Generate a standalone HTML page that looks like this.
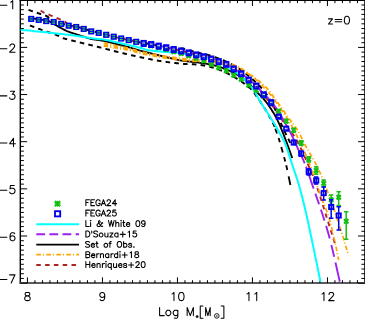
<!DOCTYPE html>
<html><head><meta charset="utf-8"><title>SMF z=0</title>
<style>html,body{margin:0;padding:0;background:#fff;font-family:"Liberation Sans",sans-serif;}svg{display:block}</style>
</head><body>
<svg width="365" height="319" viewBox="0 0 365 319">
<rect x="0" y="0" width="365" height="319" fill="#fff"/>
<path d="M20.30 -0.45 V283.85" stroke="#000" stroke-width="1.4"/>
<path d="M364.95 -0.45 V283.85" stroke="#000" stroke-width="1.5"/>
<path d="M19.60 0.25 H365.65" stroke="#000" stroke-width="1.5"/>
<path d="M19.60 283.00 H365.65" stroke="#5c5c5c" stroke-width="2.0"/>
<path d="M27.45 283.10 V277.35 M27.45 0.25 V6.00 M34.95 283.10 V280.20 M34.95 0.25 V3.15 M42.45 283.10 V280.20 M42.45 0.25 V3.15 M49.95 283.10 V280.20 M49.95 0.25 V3.15 M57.45 283.10 V280.20 M57.45 0.25 V3.15 M64.95 283.10 V280.20 M64.95 0.25 V3.15 M72.45 283.10 V280.20 M72.45 0.25 V3.15 M79.95 283.10 V280.20 M79.95 0.25 V3.15 M87.45 283.10 V280.20 M87.45 0.25 V3.15 M94.95 283.10 V280.20 M94.95 0.25 V3.15 M102.45 283.10 V277.35 M102.45 0.25 V6.00 M109.95 283.10 V280.20 M109.95 0.25 V3.15 M117.45 283.10 V280.20 M117.45 0.25 V3.15 M124.95 283.10 V280.20 M124.95 0.25 V3.15 M132.45 283.10 V280.20 M132.45 0.25 V3.15 M139.95 283.10 V280.20 M139.95 0.25 V3.15 M147.45 283.10 V280.20 M147.45 0.25 V3.15 M154.95 283.10 V280.20 M154.95 0.25 V3.15 M162.45 283.10 V280.20 M162.45 0.25 V3.15 M169.95 283.10 V280.20 M169.95 0.25 V3.15 M177.45 283.10 V277.35 M177.45 0.25 V6.00 M184.95 283.10 V280.20 M184.95 0.25 V3.15 M192.45 283.10 V280.20 M192.45 0.25 V3.15 M199.95 283.10 V280.20 M199.95 0.25 V3.15 M207.45 283.10 V280.20 M207.45 0.25 V3.15 M214.95 283.10 V280.20 M214.95 0.25 V3.15 M222.45 283.10 V280.20 M222.45 0.25 V3.15 M229.95 283.10 V280.20 M229.95 0.25 V3.15 M237.45 283.10 V280.20 M237.45 0.25 V3.15 M244.95 283.10 V280.20 M244.95 0.25 V3.15 M252.45 283.10 V277.35 M252.45 0.25 V6.00 M259.95 283.10 V280.20 M259.95 0.25 V3.15 M267.45 283.10 V280.20 M267.45 0.25 V3.15 M274.95 283.10 V280.20 M274.95 0.25 V3.15 M282.45 283.10 V280.20 M282.45 0.25 V3.15 M289.95 283.10 V280.20 M289.95 0.25 V3.15 M297.45 283.10 V280.20 M297.45 0.25 V3.15 M304.95 283.10 V280.20 M304.95 0.25 V3.15 M312.45 283.10 V280.20 M312.45 0.25 V3.15 M319.95 283.10 V280.20 M319.95 0.25 V3.15 M327.45 283.10 V277.35 M327.45 0.25 V6.00 M334.95 283.10 V280.20 M334.95 0.25 V3.15 M342.45 283.10 V280.20 M342.45 0.25 V3.15 M349.95 283.10 V280.20 M349.95 0.25 V3.15 M357.45 283.10 V280.20 M357.45 0.25 V3.15 M20.30 0.25 H27.15 M364.95 0.25 H358.10 M20.30 4.97 H23.85 M364.95 4.97 H361.40 M20.30 9.68 H23.85 M364.95 9.68 H361.40 M20.30 14.40 H23.85 M364.95 14.40 H361.40 M20.30 19.11 H23.85 M364.95 19.11 H361.40 M20.30 23.82 H23.85 M364.95 23.82 H361.40 M20.30 28.54 H23.85 M364.95 28.54 H361.40 M20.30 33.26 H23.85 M364.95 33.26 H361.40 M20.30 37.97 H23.85 M364.95 37.97 H361.40 M20.30 42.68 H23.85 M364.95 42.68 H361.40 M20.30 47.40 H27.15 M364.95 47.40 H358.10 M20.30 52.12 H23.85 M364.95 52.12 H361.40 M20.30 56.83 H23.85 M364.95 56.83 H361.40 M20.30 61.54 H23.85 M364.95 61.54 H361.40 M20.30 66.26 H23.85 M364.95 66.26 H361.40 M20.30 70.97 H23.85 M364.95 70.97 H361.40 M20.30 75.69 H23.85 M364.95 75.69 H361.40 M20.30 80.41 H23.85 M364.95 80.41 H361.40 M20.30 85.12 H23.85 M364.95 85.12 H361.40 M20.30 89.84 H23.85 M364.95 89.84 H361.40 M20.30 94.55 H27.15 M364.95 94.55 H358.10 M20.30 99.27 H23.85 M364.95 99.27 H361.40 M20.30 103.98 H23.85 M364.95 103.98 H361.40 M20.30 108.70 H23.85 M364.95 108.70 H361.40 M20.30 113.41 H23.85 M364.95 113.41 H361.40 M20.30 118.12 H23.85 M364.95 118.12 H361.40 M20.30 122.84 H23.85 M364.95 122.84 H361.40 M20.30 127.56 H23.85 M364.95 127.56 H361.40 M20.30 132.27 H23.85 M364.95 132.27 H361.40 M20.30 136.99 H23.85 M364.95 136.99 H361.40 M20.30 141.70 H27.15 M364.95 141.70 H358.10 M20.30 146.41 H23.85 M364.95 146.41 H361.40 M20.30 151.13 H23.85 M364.95 151.13 H361.40 M20.30 155.85 H23.85 M364.95 155.85 H361.40 M20.30 160.56 H23.85 M364.95 160.56 H361.40 M20.30 165.28 H23.85 M364.95 165.28 H361.40 M20.30 169.99 H23.85 M364.95 169.99 H361.40 M20.30 174.71 H23.85 M364.95 174.71 H361.40 M20.30 179.42 H23.85 M364.95 179.42 H361.40 M20.30 184.14 H23.85 M364.95 184.14 H361.40 M20.30 188.85 H27.15 M364.95 188.85 H358.10 M20.30 193.57 H23.85 M364.95 193.57 H361.40 M20.30 198.28 H23.85 M364.95 198.28 H361.40 M20.30 202.99 H23.85 M364.95 202.99 H361.40 M20.30 207.71 H23.85 M364.95 207.71 H361.40 M20.30 212.42 H23.85 M364.95 212.42 H361.40 M20.30 217.14 H23.85 M364.95 217.14 H361.40 M20.30 221.85 H23.85 M364.95 221.85 H361.40 M20.30 226.57 H23.85 M364.95 226.57 H361.40 M20.30 231.28 H23.85 M364.95 231.28 H361.40 M20.30 236.00 H27.15 M364.95 236.00 H358.10 M20.30 240.72 H23.85 M364.95 240.72 H361.40 M20.30 245.43 H23.85 M364.95 245.43 H361.40 M20.30 250.15 H23.85 M364.95 250.15 H361.40 M20.30 254.86 H23.85 M364.95 254.86 H361.40 M20.30 259.57 H23.85 M364.95 259.57 H361.40 M20.30 264.29 H23.85 M364.95 264.29 H361.40 M20.30 269.00 H23.85 M364.95 269.00 H361.40 M20.30 273.72 H23.85 M364.95 273.72 H361.40 M20.30 278.44 H23.85 M364.95 278.44 H361.40 M20.30 283.15 H27.15 M364.95 283.15 H358.10" stroke="#000" stroke-width="1.0" fill="none"/>
<clipPath id="c"><rect x="20.30" y="0.25" width="344.65" height="282.85"/></clipPath>
<g clip-path="url(#c)">
<path d="M143.70 42.90 L143.87 42.92 L144.06 42.95 L144.28 42.98 L144.52 43.01 L144.77 43.05 L145.05 43.09 L145.34 43.13 L145.64 43.17 L145.96 43.21 L146.29 43.26 L146.63 43.30 L146.98 43.35 L147.34 43.40 L147.70 43.45 L148.06 43.50 L148.42 43.56 L148.79 43.61 L149.15 43.66 L149.51 43.72 L149.86 43.77 L150.21 43.83 L150.55 43.89 L150.88 43.94 L151.20 44.00 L151.51 44.06 L151.83 44.12 L152.14 44.18 L152.45 44.24 L152.76 44.30 L153.08 44.36 L153.39 44.43 L153.70 44.50 L154.01 44.56 L154.32 44.63 L154.64 44.70 L154.95 44.77 L155.26 44.84 L155.57 44.91 L155.89 44.98 L156.20 45.05 L156.51 45.12 L156.82 45.19 L157.14 45.26 L157.45 45.33 L157.76 45.40 L158.07 45.47 L158.39 45.53 L158.70 45.60 L159.01 45.67 L159.32 45.73 L159.64 45.80 L159.95 45.86 L160.26 45.93 L160.57 46.00 L160.89 46.06 L161.20 46.13 L161.51 46.19 L161.83 46.26 L162.14 46.32 L162.45 46.39 L162.76 46.45 L163.08 46.52 L163.39 46.59 L163.70 46.65 L164.01 46.72 L164.33 46.79 L164.64 46.85 L164.95 46.92 L165.26 46.99 L165.58 47.06 L165.89 47.13 L166.20 47.20 L166.51 47.27 L166.83 47.34 L167.14 47.42 L167.45 47.49 L167.76 47.57 L168.08 47.64 L168.39 47.72 L168.70 47.80 L169.01 47.88 L169.33 47.95 L169.64 48.03 L169.95 48.11 L170.26 48.19 L170.58 48.26 L170.89 48.34 L171.20 48.42 L171.51 48.49 L171.83 48.57 L172.14 48.64 L172.45 48.72 L172.76 48.79 L173.08 48.86 L173.39 48.93 L173.70 49.00 L174.01 49.07 L174.33 49.13 L174.64 49.19 L174.95 49.26 L175.26 49.32 L175.58 49.38 L175.89 49.43 L176.20 49.49 L176.51 49.55 L176.83 49.60 L177.14 49.66 L177.45 49.72 L177.76 49.77 L178.08 49.83 L178.39 49.89 L178.70 49.94 L179.01 50.00 L179.33 50.06 L179.64 50.12 L179.95 50.18 L180.26 50.25 L180.58 50.31 L180.89 50.38 L181.20 50.45 L181.51 50.52 L181.83 50.59 L182.14 50.67 L182.45 50.75 L182.76 50.82 L183.08 50.90 L183.39 50.98 L183.70 51.06 L184.01 51.14 L184.33 51.22 L184.64 51.31 L184.95 51.39 L185.26 51.47 L185.58 51.56 L185.89 51.64 L186.20 51.73 L186.51 51.81 L186.82 51.90 L187.14 51.98 L187.45 52.07 L187.76 52.15 L188.08 52.23 L188.39 52.32 L188.70 52.40 L189.01 52.48 L189.33 52.57 L189.64 52.65 L189.95 52.73 L190.26 52.82 L190.58 52.90 L190.89 52.99 L191.20 53.07 L191.51 53.16 L191.82 53.24 L192.14 53.32 L192.45 53.41 L192.76 53.49 L193.07 53.58 L193.39 53.66 L193.70 53.75 L194.01 53.83 L194.32 53.91 L194.64 54.00 L194.95 54.08 L195.26 54.16 L195.57 54.24 L195.89 54.32 L196.20 54.40 L196.51 54.48 L196.82 54.56 L197.14 54.63 L197.45 54.71 L197.76 54.78 L198.07 54.85 L198.39 54.92 L198.70 55.00 L199.01 55.07 L199.33 55.14 L199.64 55.21 L199.95 55.28 L200.26 55.35 L200.58 55.42 L200.89 55.50 L201.20 55.57 L201.51 55.64 L201.83 55.72 L202.14 55.80 L202.45 55.87 L202.76 55.95 L203.08 56.03 L203.39 56.12 L203.70 56.20 L204.01 56.29 L204.33 56.37 L204.64 56.46 L204.95 56.55 L205.26 56.64 L205.58 56.73 L205.89 56.83 L206.20 56.92 L206.51 57.01 L206.83 57.11 L207.14 57.21 L207.45 57.30 L207.76 57.40 L208.08 57.50 L208.39 57.60 L208.70 57.70 L209.01 57.80 L209.33 57.90 L209.64 58.00 L209.95 58.10 L210.26 58.20 L210.58 58.30 L210.89 58.40 L211.20 58.50 L211.51 58.60 L211.83 58.70 L212.14 58.80 L212.45 58.91 L212.76 59.01 L213.08 59.11 L213.39 59.22 L213.70 59.32 L214.01 59.42 L214.33 59.53 L214.64 59.63 L214.95 59.74 L215.26 59.85 L215.58 59.95 L215.89 60.06 L216.20 60.17 L216.51 60.28 L216.83 60.39 L217.14 60.49 L217.45 60.60 L217.76 60.72 L218.08 60.83 L218.39 60.94 L218.70 61.05 L219.01 61.16 L219.33 61.27 L219.64 61.38 L219.95 61.49 L220.26 61.60 L220.58 61.70 L220.89 61.81 L221.20 61.92 L221.51 62.02 L221.83 62.13 L222.14 62.24 L222.45 62.35 L222.76 62.47 L223.08 62.58 L223.39 62.70 L223.70 62.82 L224.01 62.94 L224.32 63.06 L224.64 63.19 L224.95 63.33 L225.26 63.46 L225.58 63.60 L225.89 63.75 L226.20 63.90 L226.51 64.06 L226.83 64.22 L227.14 64.38 L227.45 64.55 L227.76 64.72 L228.08 64.90 L228.39 65.08 L228.70 65.26 L229.01 65.45 L229.33 65.64 L229.64 65.83 L229.95 66.03 L230.26 66.22 L230.58 66.42 L230.89 66.61 L231.20 66.81 L231.51 67.01 L231.82 67.21 L232.14 67.41 L232.45 67.61 L232.76 67.81 L233.08 68.01 L233.39 68.20 L233.70 68.40 L234.01 68.59 L234.32 68.79 L234.64 68.98 L234.95 69.17 L235.26 69.36 L235.57 69.55 L235.89 69.75 L236.20 69.94 L236.51 70.13 L236.83 70.32 L237.14 70.52 L237.45 70.71 L237.76 70.91 L238.08 71.11 L238.39 71.31 L238.70 71.51 L239.01 71.72 L239.33 71.93 L239.64 72.14 L239.95 72.35 L240.26 72.57 L240.58 72.79 L240.89 73.02 L241.20 73.25 L241.51 73.49 L241.83 73.73 L242.14 73.97 L242.45 74.22 L242.76 74.47 L243.08 74.73 L243.39 74.99 L243.70 75.26 L244.01 75.52 L244.33 75.79 L244.64 76.06 L244.95 76.33 L245.26 76.60 L245.58 76.88 L245.89 77.15 L246.20 77.42 L246.51 77.69 L246.83 77.97 L247.14 78.24 L247.45 78.50 L247.76 78.77 L248.08 79.03 L248.39 79.29 L248.70 79.55 L249.01 79.80 L249.33 80.06 L249.65 80.31 L249.97 80.56 L250.29 80.80 L250.61 81.05 L250.94 81.29 L251.26 81.54 L251.59 81.78 L251.91 82.03 L252.23 82.27 L252.56 82.51 L252.88 82.76 L253.20 83.00 L253.51 83.24 L253.83 83.49 L254.14 83.73 L254.44 83.98 L254.75 84.23 L255.05 84.48 L255.34 84.73 L255.63 84.99 L255.92 85.24 L256.20 85.50 L256.48 85.76 L256.75 86.03 L257.01 86.30 L257.28 86.57 L257.54 86.85 L257.79 87.13" fill="none" stroke="#a020f0" stroke-width="1.9" stroke-linejoin="round" stroke-linecap="butt"/>
<path d="M31.00 18.20 L31.60 18.28 L32.41 18.39 L33.36 18.52 L34.43 18.67 L35.55 18.82 L36.68 18.99 L37.78 19.15 L38.80 19.30 L39.79 19.45 L40.80 19.61 L41.83 19.78 L42.85 19.94 L43.84 20.11 L44.77 20.28 L45.63 20.44 L46.40 20.60 L47.03 20.73 L47.51 20.82 L47.91 20.89 L48.26 20.98 L48.61 21.08 L49.02 21.24 L49.54 21.47 L50.20 21.80 L51.04 22.25 L52.02 22.81 L53.11 23.45 L54.24 24.14 L55.39 24.85 L56.52 25.53 L57.57 26.16 L58.50 26.70 L59.33 27.17 L60.12 27.59 L60.85 27.98 L61.54 28.34 L62.20 28.68 L62.82 29.00 L63.42 29.30 L64.00 29.60 L64.51 29.87 L64.94 30.11 L65.32 30.32 L65.67 30.53 L66.05 30.72 L66.47 30.93 L66.98 31.15 L67.60 31.40 L68.35 31.68 L69.20 31.98 L70.12 32.29 L71.10 32.61 L72.11 32.93 L73.13 33.26 L74.13 33.58 L75.10 33.90 L76.04 34.21 L76.96 34.52 L77.89 34.83 L78.82 35.14 L79.76 35.46 L80.71 35.77 L81.69 36.08 L82.70 36.40 L83.75 36.73 L84.84 37.08 L85.96 37.43 L87.10 37.78 L88.24 38.12 L89.36 38.45 L90.45 38.74 L91.50 39.00 L92.51 39.22 L93.50 39.40 L94.47 39.55 L95.42 39.69 L96.35 39.81 L97.28 39.93 L98.19 40.06 L99.10 40.20 L99.95 40.33 L100.71 40.45 L101.43 40.55 L102.15 40.66 L102.92 40.78 L103.79 40.94 L104.80 41.14 L106.00 41.40 L107.44 41.73 L109.09 42.13 L110.91 42.58 L112.81 43.06 L114.73 43.55 L116.61 44.03 L118.39 44.49 L120.00 44.90 L121.44 45.27 L122.78 45.62 L124.04 45.96 L125.25 46.28 L126.43 46.60 L127.59 46.92 L128.78 47.25 L130.00 47.60 L131.18 47.95 L132.27 48.28 L133.31 48.62 L134.38 48.96 L135.52 49.32 L136.80 49.70 L138.27 50.13 L140.00 50.60 L142.02 51.13 L144.30 51.72 L146.77 52.34 L149.38 52.99 L152.06 53.66 L154.77 54.32 L157.43 54.98 L160.00 55.60 L162.57 56.23 L165.23 56.88 L167.94 57.53 L170.62 58.18 L173.23 58.80 L175.70 59.37 L177.98 59.88 L180.00 60.30 L181.73 60.63 L183.20 60.87 L184.48 61.04 L185.62 61.17 L186.69 61.27 L187.73 61.36 L188.82 61.47 L190.00 61.60 L191.22 61.74 L192.38 61.87 L193.53 61.99 L194.69 62.11 L195.88 62.24 L197.15 62.39 L198.51 62.57 L200.00 62.80 L201.64 63.06 L203.40 63.33 L205.26 63.62 L207.19 63.94 L209.16 64.29 L211.13 64.68 L213.09 65.11 L215.00 65.60 L216.88 66.13 L218.75 66.69 L220.62 67.29 L222.50 67.92 L224.38 68.61 L226.25 69.35 L228.12 70.14 L230.00 71.00 L231.90 71.92 L233.83 72.89 L235.78 73.92 L237.72 75.00 L239.64 76.13 L241.50 77.31 L243.30 78.53 L245.00 79.80 L246.62 81.15 L248.17 82.61 L249.67 84.14 L251.11 85.70 L252.50 87.26 L253.84 88.79 L255.14 90.25 L256.40 91.60 L257.61 92.84 L258.77 93.99 L259.87 95.08 L260.94 96.14 L261.96 97.17 L262.96 98.21 L263.94 99.28 L264.90 100.40 L265.84 101.57 L266.76 102.76 L267.65 103.98 L268.51 105.20 L269.35 106.42 L270.16 107.64 L270.94 108.83 L271.70 110.00 L272.42 111.13 L273.11 112.23 L273.77 113.31 L274.40 114.39 L275.01 115.46 L275.61 116.55 L276.21 117.66 L276.80 118.80 L277.37 119.94 L277.91 121.05 L278.43 122.16 L278.94 123.29 L279.46 124.47 L280.00 125.73 L280.58 127.10 L281.20 128.60 L281.88 130.27 L282.61 132.09 L283.38 134.03 L284.16 136.04 L284.95 138.08 L285.73 140.12 L286.49 142.10 L287.20 144.00 L287.91 145.91 L288.64 147.93 L289.37 149.97 L290.07 151.96 L290.74 153.84 L291.32 155.52 L291.82 156.93 L292.20 158.00" fill="none" stroke="#000" stroke-width="1.85" stroke-linejoin="round" stroke-linecap="butt"/>
<path d="M28.50 9.90 L29.19 10.14 L30.11 10.45 L31.21 10.83 L32.43 11.25 L33.71 11.69 L35.03 12.15 L36.30 12.59 L37.50 13.00 L38.66 13.38 L39.84 13.74 L41.03 14.09 L42.22 14.45 L43.40 14.83 L44.55 15.24 L45.65 15.69 L46.70 16.20 L47.68 16.80 L48.59 17.50 L49.46 18.25 L50.31 19.03 L51.14 19.80 L51.97 20.53 L52.82 21.17 L53.70 21.70 L54.61 22.11 L55.54 22.42 L56.48 22.66 L57.42 22.85 L58.37 23.02 L59.31 23.17 L60.26 23.34 L61.20 23.55 L62.14 23.79 L63.08 24.03 L64.01 24.27 L64.95 24.51 L65.89 24.75 L66.83 24.98 L67.76 25.20 L68.70 25.40 L69.64 25.58 L70.58 25.75 L71.51 25.90 L72.45 26.05 L73.39 26.19 L74.33 26.35 L75.26 26.51 L76.20 26.70 L77.14 26.90 L78.08 27.12 L79.01 27.34 L79.95 27.57 L80.89 27.82 L81.83 28.07 L82.76 28.33 L83.70 28.60 L84.64 28.89 L85.58 29.21 L86.51 29.54 L87.45 29.87 L88.39 30.21 L89.33 30.53 L90.26 30.83 L91.20 31.10 L92.14 31.33 L93.08 31.54 L94.01 31.72 L94.95 31.89 L95.89 32.05 L96.83 32.22 L97.76 32.40 L98.70 32.60 L99.64 32.82 L100.58 33.05 L101.51 33.28 L102.45 33.52 L103.39 33.77 L104.33 34.02 L105.26 34.26 L106.20 34.50 L107.14 34.74 L108.08 34.98 L109.01 35.22 L109.95 35.46 L110.89 35.69 L111.83 35.93 L112.76 36.17 L113.70 36.40 L114.64 36.63 L115.58 36.86 L116.51 37.09 L117.45 37.32 L118.39 37.54 L119.33 37.77 L120.26 37.99 L121.20 38.20 L122.14 38.41 L123.08 38.61 L124.01 38.81 L124.95 39.01 L125.89 39.20 L126.83 39.40 L127.76 39.60 L128.70 39.80 L129.64 40.01 L130.58 40.22 L131.51 40.43 L132.45 40.65 L133.39 40.87 L134.33 41.08 L135.26 41.29 L136.20 41.50 L137.14 41.71 L138.08 41.92 L139.01 42.13 L139.95 42.34 L140.89 42.54 L141.83 42.74 L142.76 42.92 L143.70 43.10 L144.64 43.26 L145.58 43.40 L146.51 43.53 L147.45 43.65 L148.39 43.77 L149.33 43.90 L150.26 44.04 L151.20 44.20 L152.14 44.38 L153.08 44.56 L154.01 44.76 L154.95 44.97 L155.89 45.18 L156.82 45.39 L157.76 45.60 L158.70 45.80 L159.64 46.00 L160.57 46.20 L161.51 46.39 L162.45 46.59 L163.39 46.79 L164.33 46.99 L165.26 47.19 L166.20 47.40 L167.14 47.63 L168.08 47.90 L169.01 48.18 L169.95 48.45 L170.89 48.71 L171.83 48.93 L172.76 49.10 L173.70 49.20 L174.64 49.20 L175.58 49.11 L176.51 48.95 L177.45 48.77 L178.39 48.58 L179.33 48.43 L180.26 48.34 L181.20 48.35 L182.14 48.46 L183.08 48.64 L184.01 48.87 L184.95 49.15 L185.89 49.44 L186.82 49.74 L187.76 50.03 L188.70 50.30 L189.64 50.55 L190.58 50.80 L191.51 51.06 L192.45 51.31 L193.39 51.56 L194.32 51.81 L195.26 52.06 L196.20 52.30 L197.15 52.54 L198.13 52.78 L199.11 53.02 L200.09 53.26 L201.05 53.49 L201.98 53.70 L202.87 53.91 L203.70 54.10 L204.41 54.24 L204.98 54.33 L205.47 54.39 L205.95 54.45 L206.48 54.53 L207.12 54.67 L207.94 54.88 L209.00 55.20 L210.36 55.64 L211.98 56.19 L213.79 56.82 L215.71 57.50 L217.66 58.20 L219.56 58.91 L221.33 59.58 L222.90 60.20 L224.27 60.77 L225.54 61.31 L226.71 61.84 L227.82 62.36 L228.88 62.88 L229.91 63.41 L230.95 63.94 L232.00 64.50 L233.04 65.06 L234.03 65.60 L234.99 66.14 L235.94 66.69 L236.90 67.27 L237.89 67.88 L238.91 68.56 L240.00 69.30 L241.15 70.11 L242.36 70.98 L243.60 71.90 L244.88 72.86 L246.16 73.85 L247.45 74.88 L248.74 75.93 L250.00 77.00 L251.26 78.10 L252.55 79.24 L253.84 80.41 L255.12 81.61 L256.40 82.82 L257.64 84.05 L258.85 85.28 L260.00 86.50 L261.10 87.71 L262.16 88.91 L263.19 90.10 L264.19 91.31 L265.16 92.54 L266.12 93.81 L267.06 95.13 L268.00 96.50 L268.92 97.91 L269.82 99.35 L270.70 100.82 L271.56 102.33 L272.42 103.89 L273.27 105.51 L274.13 107.21 L275.00 109.00 L275.90 110.95 L276.83 113.10 L277.77 115.37 L278.70 117.68 L279.61 119.96 L280.47 122.12 L281.28 124.09 L282.00 125.80 L282.63 127.23 L283.18 128.43 L283.67 129.47 L284.11 130.39 L284.53 131.23 L284.94 132.05 L285.36 132.89 L285.80 133.80 L286.27 134.78 L286.76 135.78 L287.25 136.78 L287.74 137.76 L288.21 138.72 L288.65 139.62 L289.05 140.45 L289.40 141.20 L289.71 141.87 L289.98 142.49 L290.22 143.06 L290.42 143.56 L290.61 144.01 L290.76 144.40 L290.89 144.73 L291.00 145.00" fill="none" stroke="#000" stroke-width="1.95" stroke-linejoin="round" stroke-linecap="butt" stroke-dasharray="4.6 4.2"/>
<path d="M29.30 25.20 L29.53 25.29 L29.79 25.39 L30.07 25.50 L30.37 25.61 L30.69 25.74 L31.04 25.87 L31.40 26.02 L31.79 26.17 L32.19 26.32 L32.61 26.49 L33.05 26.66 L33.50 26.83 L33.97 27.01 L34.45 27.20 L34.94 27.39 L35.44 27.58 L35.96 27.77 L36.49 27.97 L37.02 28.17 L37.56 28.38 L38.11 28.58 L38.67 28.79 L39.23 28.99 L39.80 29.20 L40.39 29.41 L41.01 29.63 L41.67 29.87 L42.36 30.11 L43.08 30.36 L43.81 30.61 L44.57 30.87 L45.34 31.14 L46.12 31.41 L46.91 31.68 L47.70 31.95 L48.49 32.22 L49.27 32.49 L50.05 32.76 L50.82 33.02 L51.57 33.29 L52.31 33.54 L53.02 33.79 L53.70 34.03 L54.36 34.27 L54.98 34.49 L55.56 34.71 L56.10 34.91 L56.60 35.10 L57.04 35.28 L57.44 35.44 L57.78 35.60 L58.08 35.74 L58.34 35.87 L58.57 36.00 L58.77 36.12 L58.94 36.23 L59.10 36.34 L59.24 36.44 L59.38 36.54 L59.51 36.64 L59.64 36.73 L59.77 36.83 L59.92 36.93 L60.08 37.03 L60.26 37.13 L60.46 37.23 L60.70 37.34 L60.97 37.46 L61.28 37.58 L61.64 37.71 L62.04 37.85 L62.50 38.00 L63.01 38.16 L63.54 38.32 L64.12 38.48 L64.72 38.65 L65.35 38.83 L66.00 39.00 L66.68 39.18 L67.38 39.37 L68.10 39.55 L68.84 39.74 L69.60 39.93 L70.37 40.12 L71.15 40.32 L71.94 40.52 L72.74 40.71 L73.55 40.91 L74.36 41.11 L75.18 41.31 L75.99 41.51 L76.80 41.71 L77.61 41.91 L78.42 42.11 L79.21 42.30 L80.00 42.50 L80.79 42.70 L81.58 42.89 L82.38 43.09 L83.19 43.29 L84.00 43.49 L84.82 43.69 L85.65 43.89 L86.48 44.10 L87.32 44.30 L88.16 44.50 L89.00 44.71 L89.84 44.91 L90.69 45.12 L91.54 45.32 L92.39 45.53 L93.24 45.74 L94.09 45.94 L94.94 46.15 L95.79 46.36 L96.64 46.57 L97.48 46.78 L98.33 46.98 L99.16 47.19 L100.00 47.40 L100.83 47.61 L101.67 47.82 L102.50 48.03 L103.33 48.24 L104.17 48.46 L105.00 48.67 L105.83 48.89 L106.67 49.10 L107.50 49.32 L108.33 49.54 L109.17 49.75 L110.00 49.97 L110.83 50.18 L111.67 50.40 L112.50 50.62 L113.33 50.83 L114.17 51.04 L115.00 51.26 L115.83 51.47 L116.67 51.68 L117.50 51.89 L118.33 52.09 L119.17 52.30 L120.00 52.50 L120.83 52.70 L121.67 52.90 L122.50 53.10 L123.33 53.30 L124.17 53.50 L125.00 53.70 L125.83 53.90 L126.67 54.10 L127.50 54.29 L128.33 54.49 L129.17 54.68 L130.00 54.88 L130.83 55.07 L131.67 55.26 L132.50 55.45 L133.33 55.64 L134.17 55.82 L135.00 56.01 L135.83 56.20 L136.67 56.38 L137.50 56.56 L138.33 56.74 L139.17 56.92 L140.00 57.10 L140.83 57.28 L141.66 57.45 L142.48 57.63 L143.30 57.80 L144.12 57.98 L144.94 58.15 L145.76 58.32 L146.57 58.49 L147.39 58.66 L148.21 58.83 L149.02 59.00 L149.84 59.16 L150.67 59.33 L151.49 59.49 L152.32 59.65 L153.15 59.81 L153.98 59.96 L154.82 60.12 L155.67 60.27 L156.52 60.42 L157.38 60.57 L158.25 60.72 L159.12 60.86 L160.00 61.00 L160.90 61.14 L161.83 61.28 L162.78 61.42 L163.75 61.56 L164.74 61.70 L165.74 61.83 L166.75 61.97 L167.77 62.10 L168.80 62.24 L169.83 62.37 L170.85 62.49 L171.87 62.62 L172.88 62.74 L173.88 62.86 L174.86 62.97 L175.83 63.09 L176.77 63.19 L177.69 63.29 L178.58 63.39 L179.44 63.48 L180.26 63.57 L181.05 63.65 L181.80 63.73 L182.50 63.80 L183.16 63.86 L183.78 63.92 L184.36 63.96 L184.90 64.00 L185.41 64.03 L185.90 64.05 L186.35 64.07 L186.79 64.09 L187.20 64.10 L187.59 64.10 L187.96 64.10 L188.33 64.11 L188.68 64.11 L189.02 64.11 L189.36 64.10 L189.69 64.10 L190.03 64.10 L190.37 64.11 L190.71 64.11 L191.06 64.12 L191.42 64.13 L191.80 64.15 L192.19 64.17 L192.60 64.20 L193.02 64.23 L193.45 64.26 L193.87 64.30 L194.30 64.33 L194.73 64.37 L195.16 64.41 L195.59 64.45 L196.01 64.49 L196.44 64.53 L196.87 64.57 L197.30 64.61 L197.73 64.66 L198.16 64.70 L198.58 64.75 L199.01 64.80 L199.43 64.85 L199.85 64.90 L200.27 64.95 L200.68 65.01 L201.09 65.06 L201.50 65.12 L201.90 65.18 L202.30 65.24 L202.70 65.30 L203.09 65.36 L203.48 65.43 L203.86 65.49 L204.25 65.56 L204.62 65.63 L205.00 65.70 L205.37 65.77 L205.74 65.84 L206.11 65.91 L206.47 65.99 L206.84 66.07 L207.20 66.14 L207.56 66.22 L207.92 66.30 L208.28 66.39 L208.64 66.47 L208.99 66.56 L209.35 66.64 L209.71 66.73 L210.07 66.82 L210.42 66.91 L210.78 67.01 L211.14 67.10 L211.50 67.20 L211.86 67.30 L212.21 67.40 L212.57 67.49 L212.92 67.59 L213.26 67.69 L213.61 67.79 L213.96 67.89 L214.30 68.00 L214.64 68.10 L214.99 68.21 L215.33 68.31 L215.68 68.42 L216.02 68.54 L216.37 68.65 L216.72 68.77 L217.07 68.89 L217.42 69.02 L217.78 69.15 L218.14 69.28 L218.50 69.41 L218.87 69.55 L219.24 69.70 L219.62 69.85 L220.00 70.00 L220.39 70.16 L220.78 70.32 L221.18 70.49 L221.58 70.66 L221.99 70.84 L222.39 71.02 L222.81 71.20 L223.22 71.39 L223.64 71.57 L224.06 71.77 L224.48 71.96 L224.91 72.16 L225.33 72.36 L225.76 72.57 L226.18 72.77 L226.61 72.98 L227.04 73.19 L227.46 73.40 L227.89 73.62 L228.32 73.83 L228.74 74.05 L229.16 74.26 L229.58 74.48 L230.00 74.70 L230.42 74.92 L230.84 75.15 L231.27 75.37 L231.70 75.61 L232.13 75.84 L232.57 76.08 L233.01 76.32 L233.44 76.56 L233.88 76.81 L234.32 77.05 L234.75 77.30 L235.19 77.55 L235.62 77.80 L236.05 78.05 L236.47 78.30 L236.89 78.55 L237.30 78.80 L237.71 79.05 L238.11 79.29 L238.51 79.54 L238.89 79.78 L239.27 80.02 L239.64 80.26 L240.00 80.50 L240.35 80.74 L240.69 80.97 L241.03 81.21 L241.36 81.44 L241.68 81.68 L241.99 81.91 L242.30 82.15 L242.61 82.38 L242.91 82.62 L243.20 82.85 L243.49 83.08 L243.78 83.31 L244.06 83.54 L244.33 83.77 L244.61 84.00 L244.88 84.23 L245.15 84.46 L245.42 84.68 L245.68 84.91 L245.95 85.13 L246.21 85.35 L246.48 85.57 L246.74 85.78 L247.00 86.00 L247.26 86.20 L247.50 86.39 L247.73 86.55 L247.94 86.70 L248.15 86.84 L248.36 86.96 L248.55 87.08 L248.74 87.20 L248.93 87.32 L249.12 87.43 L249.31 87.55 L249.51 87.68 L249.70 87.82 L249.91 87.97 L250.11 88.14 L250.33 88.32 L250.56 88.53 L250.80 88.76 L251.06 89.02 L251.33 89.30 L251.62 89.62 L251.92 89.98 L252.25 90.37 L252.60 90.80 L252.97 91.28 L253.37 91.79 L253.79 92.35 L254.23 92.94 L254.69 93.57 L255.16 94.22 L255.65 94.90 L256.15 95.61 L256.66 96.34 L257.18 97.08 L257.71 97.85 L258.24 98.62 L258.78 99.40 L259.31 100.19 L259.85 100.98 L260.38 101.78 L260.91 102.57 L261.43 103.36 L261.94 104.13 L262.44 104.90 L262.93 105.65 L263.40 106.39 L263.86 107.11 L264.30 107.80 L264.73 108.49 L265.16 109.18 L265.59 109.88 L266.01 110.58 L266.44 111.29 L266.86 112.00 L267.28 112.71 L267.69 113.42 L268.10 114.13 L268.51 114.83 L268.90 115.53 L269.29 116.22 L269.68 116.91 L270.05 117.58 L270.42 118.25 L270.77 118.90 L271.12 119.54 L271.46 120.16 L271.78 120.77 L272.09 121.36 L272.39 121.92 L272.67 122.47 L272.94 123.00 L273.20 123.50 L273.44 123.98 L273.66 124.42 L273.86 124.85 L274.04 125.25 L274.21 125.63 L274.36 125.99 L274.51 126.33 L274.64 126.66 L274.76 126.97" fill="none" stroke="#000" stroke-width="1.95" stroke-linejoin="round" stroke-linecap="butt" stroke-dasharray="4.6 4.2" stroke-dashoffset="-0.7"/>
<path d="M275.33 128.66 L275.42 128.93 L275.50 129.20 L275.59 129.48 L275.68 129.76 L275.77 130.05 L275.87 130.34 L275.97 130.65 L276.08 130.97 L276.20 131.30 L276.32 131.63 L276.44 131.94 L276.55 132.23 L276.66 132.50 L276.76 132.77 L276.86 133.02 L276.96 133.27 L277.06 133.52" fill="none" stroke="#000" stroke-width="1.85" stroke-linejoin="round" stroke-linecap="butt"/>
<path d="M278.64 138.06 L278.82 138.62 L279.00 139.24 L279.20 139.90 L279.41 140.62 L279.64 141.40 L279.89 142.23" fill="none" stroke="#000" stroke-width="1.85" stroke-linejoin="round" stroke-linecap="butt"/>
<path d="M281.28 147.07 L281.59 148.13 L281.90 149.22 L282.21 150.33 L282.52 151.46 L282.84 152.59" fill="none" stroke="#000" stroke-width="1.85" stroke-linejoin="round" stroke-linecap="butt"/>
<path d="M284.09 157.13 L284.39 158.24 L284.69 159.34 L284.97 160.41 L285.25 161.46" fill="none" stroke="#000" stroke-width="1.85" stroke-linejoin="round" stroke-linecap="butt"/>
<path d="M286.23 165.33 L286.45 166.26 L286.67 167.20 L286.89 168.15 L287.10 169.10 L287.31 170.04" fill="none" stroke="#000" stroke-width="1.85" stroke-linejoin="round" stroke-linecap="butt"/>
<path d="M288.65 176.44 L288.82 177.29 L288.99 178.12 L289.15 178.92 L289.30 179.69 L289.45 180.43 L289.59 181.14 L289.73 181.82 L289.86 182.45 L289.98 183.04 L290.09 183.60 L290.20 184.10 L290.30 184.56 L290.39 184.96" fill="none" stroke="#000" stroke-width="1.85" stroke-linejoin="round" stroke-linecap="butt"/>
<path d="M20.50 29.80 L21.97 29.94 L23.90 30.13 L26.19 30.34 L28.75 30.59 L31.50 30.85 L34.35 31.13 L37.21 31.42 L40.00 31.70 L42.89 32.00 L46.04 32.34 L49.35 32.69 L52.68 33.06 L55.93 33.41 L58.98 33.75 L61.71 34.05 L64.00 34.30 L65.78 34.49 L67.14 34.64 L68.18 34.75 L69.01 34.84 L69.76 34.92 L70.53 35.02 L71.44 35.14 L72.60 35.30 L73.98 35.50 L75.47 35.74 L77.03 35.99 L78.65 36.26 L80.30 36.53 L81.96 36.80 L83.60 37.06 L85.20 37.30 L86.81 37.53 L88.45 37.76 L90.12 37.99 L91.78 38.22 L93.40 38.43 L94.96 38.64 L96.44 38.83 L97.80 39.00 L99.00 39.14 L100.02 39.23 L100.94 39.30 L101.81 39.36 L102.69 39.43 L103.65 39.53 L104.73 39.68 L106.00 39.90 L107.50 40.20 L109.19 40.56 L111.00 40.97 L112.89 41.41 L114.79 41.86 L116.65 42.31 L118.40 42.73 L120.00 43.10 L121.44 43.43 L122.78 43.74 L124.04 44.03 L125.25 44.31 L126.43 44.58 L127.59 44.85 L128.78 45.12 L130.00 45.40 L131.27 45.69 L132.56 45.98 L133.86 46.26 L135.15 46.55 L136.43 46.84 L137.67 47.12 L138.86 47.41 L140.00 47.70 L141.04 47.99 L141.98 48.30 L142.86 48.60 L143.72 48.91 L144.58 49.20 L145.50 49.49 L146.49 49.76 L147.60 50.00 L148.83 50.22 L150.13 50.42 L151.51 50.61 L152.94 50.78 L154.40 50.94 L155.90 51.10 L157.40 51.25 L158.90 51.40 L160.43 51.54 L162.02 51.68 L163.64 51.81 L165.27 51.93 L166.90 52.05 L168.50 52.17 L170.04 52.28 L171.50 52.40 L172.85 52.51 L174.10 52.60 L175.28 52.69 L176.44 52.77 L177.61 52.87 L178.83 52.99 L180.15 53.13 L181.60 53.30 L183.19 53.50 L184.88 53.72 L186.66 53.95 L188.49 54.21 L190.37 54.49 L192.26 54.79 L194.14 55.13 L196.00 55.50 L197.85 55.90 L199.71 56.31 L201.58 56.76 L203.46 57.23 L205.35 57.74 L207.24 58.28 L209.12 58.87 L211.00 59.50 L212.88 60.17 L214.75 60.86 L216.62 61.59 L218.50 62.36 L220.38 63.17 L222.25 64.05 L224.12 64.99 L226.00 66.00 L227.90 67.09 L229.83 68.26 L231.77 69.50 L233.71 70.79 L235.62 72.13 L237.49 73.50 L239.29 74.90 L241.00 76.30 L242.66 77.76 L244.29 79.30 L245.88 80.89 L247.41 82.49 L248.87 84.09 L250.23 85.64 L251.48 87.12 L252.60 88.50 L253.56 89.78 L254.38 90.98 L255.07 92.13 L255.67 93.23 L256.21 94.29 L256.73 95.31 L257.25 96.31 L257.80 97.30 L258.36 98.25 L258.88 99.14 L259.38 100.00 L259.87 100.82 L260.35 101.64 L260.84 102.47 L261.36 103.32 L261.90 104.20 L262.47 105.12 L263.07 106.05 L263.68 107.00 L264.31 107.96 L264.93 108.92 L265.56 109.88 L266.19 110.85 L266.80 111.80 L267.42 112.77 L268.05 113.77 L268.69 114.77 L269.32 115.77 L269.94 116.76 L270.53 117.70 L271.09 118.58 L271.60 119.40 L272.05 120.11 L272.44 120.73 L272.80 121.28 L273.12 121.79 L273.45 122.31 L273.79 122.86 L274.17 123.48 L274.60 124.20 L275.07 124.99 L275.56 125.82 L276.06 126.68 L276.59 127.59 L277.15 128.56 L277.73 129.60 L278.35 130.71 L279.00 131.90 L279.69 133.15 L280.43 134.43 L281.21 135.77 L282.01 137.18 L282.82 138.69 L283.65 140.32 L284.48 142.08 L285.30 144.00 L286.11 146.11 L286.94 148.40 L287.76 150.83 L288.59 153.38 L289.43 156.01 L290.28 158.67 L291.14 161.35 L292.00 164.00 L292.88 166.61 L293.76 169.20 L294.66 171.80 L295.56 174.44 L296.47 177.15 L297.38 179.96 L298.29 182.90 L299.20 186.00 L300.11 189.26 L301.02 192.67 L301.94 196.19 L302.86 199.82 L303.78 203.53 L304.69 207.31 L305.60 211.14 L306.50 215.00 L307.39 218.92 L308.27 222.93 L309.15 227.01 L310.02 231.14 L310.89 235.32 L311.76 239.51 L312.63 243.71 L313.50 247.90 L314.42 252.32 L315.41 257.10 L316.43 262.03 L317.44 266.91 L318.39 271.53 L319.24 275.69 L319.96 279.18 L320.50 281.80" fill="none" stroke="#00ffff" stroke-width="2.0" stroke-linejoin="round" stroke-linecap="butt"/>
<path d="M40.60 10.60 L40.89 10.77 L41.25 10.99 L41.67 11.25 L42.16 11.54 L42.70 11.86 L43.31 12.20 L43.98 12.55 L44.70 12.90 L45.51 13.26 L46.41 13.65 L47.38 14.06 L48.41 14.48 L49.47 14.91 L50.54 15.34 L51.59 15.78 L52.60 16.20 L53.60 16.62 L54.63 17.05 L55.67 17.49 L56.70 17.92 L57.71 18.36 L58.69 18.78 L59.63 19.20 L60.50 19.60 L61.32 19.98 L62.11 20.35 L62.86 20.71 L63.57 21.06 L64.25 21.41 L64.88 21.77 L65.46 22.13 L66.00 22.50 L66.44 22.90 L66.76 23.32 L67.01 23.76 L67.23 24.20 L67.46 24.63 L67.75 25.03 L68.15 25.39 L68.70 25.70 L69.41 25.95 L70.24 26.14 L71.16 26.30 L72.15 26.43 L73.18 26.55 L74.21 26.68 L75.23 26.82 L76.20 27.00 L77.14 27.20 L78.08 27.42 L79.01 27.64 L79.95 27.88 L80.89 28.12 L81.83 28.37 L82.76 28.63 L83.70 28.90 L84.64 29.19 L85.58 29.51 L86.51 29.84 L87.45 30.17 L88.39 30.51 L89.33 30.83 L90.26 31.13 L91.20 31.40 L92.14 31.63 L93.08 31.84 L94.01 32.02 L94.95 32.19 L95.89 32.35 L96.83 32.52 L97.76 32.70 L98.70 32.90 L99.64 33.12 L100.58 33.35 L101.51 33.58 L102.45 33.82 L103.39 34.07 L104.33 34.32 L105.26 34.56 L106.20 34.80 L107.14 35.04 L108.08 35.28 L109.01 35.52 L109.95 35.76 L110.89 35.99 L111.83 36.23 L112.76 36.47 L113.70 36.70 L114.64 36.93 L115.58 37.16 L116.51 37.39 L117.45 37.62 L118.39 37.84 L119.33 38.07 L120.26 38.29 L121.20 38.50 L122.14 38.71 L123.08 38.91 L124.01 39.11 L124.95 39.31 L125.89 39.50 L126.83 39.70 L127.76 39.90 L128.70 40.10 L129.64 40.31 L130.58 40.52 L131.51 40.73 L132.45 40.95 L133.39 41.17 L134.33 41.38 L135.26 41.59 L136.20 41.80 L137.14 42.01 L138.08 42.22 L139.01 42.43 L139.95 42.64 L140.89 42.84 L141.83 43.04 L142.76 43.22 L143.70 43.40 L144.64 43.56 L145.58 43.70 L146.51 43.83 L147.45 43.95 L148.39 44.07 L149.33 44.20 L150.26 44.34 L151.20 44.50 L152.14 44.68 L153.08 44.86 L154.01 45.06 L154.95 45.27 L155.89 45.48 L156.82 45.69 L157.76 45.90 L158.70 46.10 L159.64 46.30 L160.57 46.50 L161.51 46.69 L162.45 46.89 L163.39 47.09 L164.33 47.29 L165.26 47.49 L166.20 47.70 L167.14 47.92 L168.08 48.14 L169.01 48.38 L169.95 48.61 L170.89 48.84 L171.83 49.07 L172.76 49.29 L173.70 49.50 L174.64 49.69 L175.58 49.88 L176.51 50.05 L177.45 50.22 L178.39 50.39 L179.33 50.56 L180.26 50.75 L181.20 50.95 L182.14 51.17 L183.08 51.40 L184.01 51.64 L184.95 51.89 L185.89 52.14 L186.82 52.40 L187.76 52.65 L188.70 52.90 L189.64 53.15 L190.58 53.40 L191.51 53.66 L192.45 53.91 L193.39 54.16 L194.32 54.41 L195.26 54.66 L196.20 54.90 L197.14 55.13 L198.07 55.35 L199.01 55.57 L199.95 55.78 L200.89 56.00 L201.83 56.22 L202.76 56.45 L203.70 56.70 L204.64 56.96 L205.58 57.23 L206.51 57.51 L207.45 57.80 L208.39 58.10 L209.33 58.40 L210.26 58.70 L211.20 59.00 L212.14 59.30 L213.08 59.61 L214.01 59.92 L214.95 60.24 L215.89 60.56 L216.83 60.89 L217.76 61.22 L218.70 61.55 L219.64 61.88 L220.58 62.20 L221.51 62.52 L222.45 62.85 L223.39 63.20 L224.32 63.56 L225.26 63.96 L226.20 64.40 L227.14 64.88 L228.08 65.40 L229.01 65.95 L229.95 66.53 L230.89 67.11 L231.82 67.71 L232.76 68.31 L233.70 68.90 L234.64 69.48 L235.57 70.05 L236.51 70.63 L237.45 71.21 L238.39 71.81 L239.33 72.43 L240.26 73.07 L241.20 73.75 L242.14 74.47 L243.08 75.23 L244.01 76.02 L244.95 76.83 L245.89 77.65 L246.83 78.47 L247.76 79.27 L248.70 80.05 L249.64 80.79 L250.58 81.50 L251.51 82.18 L252.45 82.87 L253.39 83.58 L254.33 84.32 L255.26 85.12 L256.20 86.00 L257.13 86.94 L258.03 87.93 L258.93 88.96 L259.84 90.04 L260.76 91.16 L261.70 92.33 L262.68 93.54 L263.70 94.80 L264.79 96.13 L265.95 97.55 L267.16 99.03 L268.38 100.54 L269.60 102.07 L270.79 103.59 L271.94 105.08 L273.00 106.50 L273.99 107.88 L274.91 109.23 L275.79 110.57 L276.64 111.89 L277.48 113.19 L278.30 114.47 L279.14 115.74 L280.00 117.00 L280.88 118.24 L281.77 119.48 L282.66 120.69 L283.55 121.89 L284.43 123.08 L285.31 124.24 L286.16 125.38 L287.00 126.50 L287.84 127.61 L288.69 128.73 L289.53 129.84 L290.36 130.93 L291.16 131.97 L291.91 132.95 L292.59 133.87 L293.20 134.70 L293.68 135.36 L294.04 135.82 L294.31 136.17 L294.55 136.49 L294.79 136.85 L295.08 137.33 L295.47 138.02 L296.00 139.00 L296.68 140.28 L297.47 141.80 L298.34 143.50 L299.27 145.34 L300.23 147.26 L301.19 149.21 L302.12 151.14 L303.00 153.00 L303.85 154.85 L304.72 156.78 L305.58 158.74 L306.43 160.71 L307.26 162.64 L308.06 164.51 L308.81 166.27 L309.50 167.90 L310.11 169.32 L310.64 170.53 L311.11 171.61 L311.56 172.64 L312.00 173.70 L312.47 174.86 L312.99 176.20 L313.60 177.80 L314.29 179.66 L315.03 181.70 L315.82 183.89 L316.64 186.19 L317.48 188.59 L318.33 191.04 L319.17 193.52 L320.00 196.00 L320.80 198.47 L321.59 200.97 L322.38 203.51 L323.18 206.09 L323.98 208.74 L324.82 211.47 L325.69 214.29 L326.60 217.20 L327.62 220.42 L328.77 224.03 L329.99 227.84 L331.21 231.67 L332.39 235.34 L333.45 238.65 L334.34 241.44 L335.00 243.50" fill="none" stroke="#b22222" stroke-width="1.9" stroke-linejoin="round" stroke-linecap="butt" stroke-dasharray="4.5 4.3"/>
<path d="M257.54 86.85 L257.79 87.13 L258.05 87.41 L258.30 87.69 L258.54 87.98 L258.79 88.26 L259.03 88.54 L259.27 88.83 L259.51 89.11 L259.74 89.39 L259.97 89.67 L260.20 89.95 L260.43 90.22 L260.66 90.49 L260.89 90.75 L261.11 91.01 L261.33 91.27 L261.56 91.52 L261.78 91.76 L262.00 92.00 L262.22 92.23 L262.43 92.45 L262.65 92.66 L262.85 92.87 L263.06 93.07 L263.26 93.26 L263.46 93.45 L263.66 93.64 L263.86 93.82 L264.05 94.00 L264.24 94.18 L264.44 94.36 L264.63 94.54 L264.82 94.72 L265.01 94.90 L265.21 95.08 L265.40 95.27 L265.60 95.45 L265.79 95.65 L265.99 95.84 L266.19 96.05 L266.39 96.26 L266.59 96.48 L266.80 96.70 L267.01 96.93 L267.22 97.16 L267.43 97.40 L267.63 97.64 L267.84 97.89 L268.05 98.13 L268.26 98.38 L268.47 98.63 L268.69 98.89 L268.90 99.15 L269.11 99.41 L269.33 99.67 L269.54 99.93 L269.76 100.20 L269.97 100.47 L270.19 100.74 L270.41 101.02 L270.63 101.30 L270.86 101.58 L271.08 101.86 L271.31 102.14 L271.54 102.42 L271.77 102.71 L272.00 103.00 L272.23 103.29 L272.47 103.58 L272.71 103.87 L272.95 104.16 L273.20 104.45 L273.44 104.74 L273.69 105.04 L273.94 105.33 L274.19 105.63 L274.44 105.93 L274.70 106.24 L274.95 106.54 L275.20 106.85 L275.46 107.17 L275.71 107.49 L275.97 107.81 L276.23 108.14 L276.48 108.47 L276.74 108.81 L276.99 109.16 L277.24 109.51 L277.50 109.86 L277.75 110.23 L278.00 110.60 L278.25 110.98 L278.50 111.37 L278.75 111.77 L279.01 112.18 L279.26 112.59 L279.51 113.02 L279.77 113.45 L280.02 113.88 L280.27 114.32 L280.53 114.77 L280.78 115.21 L281.03 115.66 L281.28 116.11 L281.54 116.57 L281.79 117.02 L282.04 117.47 L282.29 117.93 L282.54 118.38 L282.78 118.82 L283.03 119.27 L283.27 119.71 L283.52 120.15 L283.76 120.58 L284.00 121.00 L284.24 121.42 L284.48 121.84 L284.72 122.26 L284.96 122.68 L285.20 123.09 L285.43 123.51 L285.67 123.92 L285.91 124.33 L286.14 124.75 L286.38 125.16 L286.61 125.57 L286.84 125.98 L287.07 126.38 L287.30 126.79 L287.53 127.20 L287.76 127.60 L287.98 128.00 L288.21 128.41 L288.43 128.81 L288.65 129.21 L288.86 129.61 L289.08 130.01 L289.29 130.40 L289.50 130.80 L289.71 131.19 L289.91 131.59 L290.11 131.97 L290.31 132.36 L290.50 132.74 L290.70 133.12 L290.89 133.50 L291.07 133.88 L291.26 134.26 L291.45 134.64 L291.63 135.01 L291.81 135.39 L291.99 135.76 L292.18 136.14 L292.36 136.52 L292.54 136.90 L292.72 137.28 L292.90 137.66 L293.08 138.04 L293.26 138.43 L293.44 138.82 L293.63 139.21 L293.81 139.60 L294.00 140.00 L294.19 140.40 L294.37 140.79 L294.55 141.19 L294.73 141.58 L294.91 141.97 L295.09 142.36 L295.26 142.76 L295.44 143.15 L295.61 143.54 L295.79 143.94 L295.97 144.34 L296.14 144.74 L296.32 145.14 L296.50 145.55 L296.69 145.97 L296.87 146.39 L297.06 146.81 L297.26 147.24 L297.45 147.68 L297.65 148.13 L297.86 148.58 L298.07 149.05 L298.28 149.52 L298.50 150.00 L298.72 150.49 L298.95 150.97 L299.18 151.45 L299.41 151.93 L299.65 152.41 L299.89 152.89 L300.13 153.37 L300.37 153.86 L300.62 154.36 L300.87 154.86 L301.12 155.37 L301.38 155.89 L301.63 156.43 L301.90 156.97 L302.16 157.53 L302.43 158.10 L302.70 158.69 L302.98 159.30 L303.26 159.93 L303.54 160.58 L303.82 161.25 L304.11 161.94 L304.40 162.66 L304.70 163.40" fill="none" stroke="#a020f0" stroke-width="1.9" stroke-linejoin="round" stroke-linecap="butt"/>
<path d="M305.91 166.57 L306.22 167.41 L306.53 168.27 L306.85 169.14 L307.17 170.03 L307.49 170.94 L307.81 171.86 L308.14 172.80 L308.47 173.76 L308.81 174.73 L309.15 175.71 L309.50 176.71 L309.84 177.72 L310.20 178.75 L310.55 179.79 L310.92 180.84 L311.28 181.91 L311.65 182.99 L312.03 184.08 L312.41 185.18 L312.80 186.30 L313.20 187.44 L313.61 188.61" fill="none" stroke="#a020f0" stroke-width="1.9" stroke-linejoin="round" stroke-linecap="butt"/>
<path d="M315.34 193.57 L315.80 194.87 L316.26 196.18 L316.72 197.50 L317.19 198.84 L317.66 200.19 L318.13 201.54 L318.60 202.89 L319.07 204.25" fill="none" stroke="#a020f0" stroke-width="1.9" stroke-linejoin="round" stroke-linecap="butt"/>
<path d="M320.90 209.61 L321.34 210.93 L321.78 212.22 L322.20 213.50 L322.61 214.76 L323.01 215.99 L323.40 217.20 L323.77 218.37 L324.13 219.51 L324.49 220.63" fill="none" stroke="#a020f0" stroke-width="1.9" stroke-linejoin="round" stroke-linecap="butt"/>
<path d="M326.11 225.86 L326.42 226.87 L326.72 227.88 L327.02 228.88 L327.31 229.89 L327.61 230.90 L327.90 231.92 L328.19 232.96 L328.49 234.01 L328.79 235.09 L329.09 236.19 L329.39 237.32 L329.70 238.48" fill="none" stroke="#a020f0" stroke-width="1.9" stroke-linejoin="round" stroke-linecap="butt"/>
<path d="M331.35 244.90 L331.72 246.39 L332.10 247.98 L332.50 249.63 L332.91 251.35 L333.32 253.13 L333.74 254.95 L334.17 256.80" fill="none" stroke="#a020f0" stroke-width="1.9" stroke-linejoin="round" stroke-linecap="butt"/>
<path d="M335.45 262.43 L335.88 264.29 L336.29 266.14 L336.70 267.95 L337.09 269.72 L337.47 271.43 L337.84 273.07 L338.19 274.64 L338.52 276.12 L338.83 277.49 L339.11 278.76 L339.37 279.91 L339.60 280.93 L339.80 281.80" fill="none" stroke="#a020f0" stroke-width="1.9" stroke-linejoin="round" stroke-linecap="butt"/>
<path d="M103.70 43.20 L104.33 43.34 L105.12 43.51 L106.05 43.71 L107.09 43.93 L108.22 44.17 L109.42 44.43 L110.67 44.70 L111.94 44.97 L113.21 45.24 L114.46 45.51 L115.66 45.76 L116.80 46.00 L117.91 46.23 L119.03 46.45 L120.17 46.67 L121.31 46.90 L122.45 47.12 L123.59 47.34 L124.72 47.56 L125.83 47.78 L126.92 48.01 L127.98 48.23 L129.01 48.46 L130.00 48.70 L130.91 48.94 L131.74 49.17 L132.49 49.41 L133.20 49.64 L133.89 49.88 L134.57 50.12 L135.29 50.37 L136.04 50.62 L136.87 50.88 L137.79 51.14 L138.83 51.42 L140.00 51.70 L141.30 51.99 L142.69 52.30 L144.16 52.62 L145.70 52.94 L147.32 53.28 L149.00 53.61 L150.73 53.95 L152.52 54.29 L154.34 54.63 L156.20 54.96 L158.09 55.28 L160.00 55.60 L161.99 55.92 L164.13 56.25 L166.36 56.58 L168.67 56.91 L171.02 57.25 L173.38 57.58 L175.71 57.89 L178.00 58.20 L180.20 58.48 L182.29 58.75 L184.23 58.99 L186.00 59.20 L187.58 59.38 L189.02 59.53 L190.32 59.66 L191.52 59.77 L192.63 59.86 L193.69 59.93 L194.70 60.00 L195.70 60.06 L196.71 60.11 L197.75 60.17 L198.84 60.23 L200.00 60.30 L201.22 60.37 L202.45 60.41 L203.69 60.45 L204.94 60.48 L206.20 60.51 L207.46 60.54 L208.73 60.57 L209.99 60.62 L211.25 60.68 L212.51 60.76 L213.76 60.87 L215.00 61.00 L216.24 61.16 L217.51 61.34 L218.78 61.54 L220.05 61.76 L221.32 61.99 L222.59 62.24 L223.83 62.50 L225.06 62.76 L226.25 63.04 L227.41 63.32 L228.53 63.61 L229.60 63.90 L230.63 64.20 L231.64 64.53 L232.62 64.87 L233.58 65.22 L234.50 65.58 L235.40 65.94 L236.26 66.31 L237.09 66.67 L237.88 67.02 L238.63 67.37 L239.34 67.69 L240.00 68.00 L240.60 68.28 L241.12 68.54 L241.58 68.79 L241.99 69.01" fill="none" stroke="#ffa500" stroke-width="2.2" stroke-linejoin="round" stroke-linecap="butt" stroke-dasharray="4.6 2 1.1 2.3"/>
<path d="M241.12 68.54 L241.58 68.79 L241.99 69.01 L242.36 69.24 L242.71 69.46 L243.05 69.68 L243.39 69.91 L243.74 70.15 L244.11 70.41 L244.53 70.69 L245.00 71.00 L245.52 71.34 L246.06 71.70 L246.63 72.08 L247.22 72.48 L247.83 72.89 L248.44 73.31 L249.05 73.74 L249.67 74.16 L250.27 74.59 L250.87 75.00 L251.45 75.41 L252.00 75.80 L252.54 76.18 L253.06 76.55 L253.58 76.92 L254.10 77.29 L254.60 77.65 L255.10 78.01 L255.59 78.37 L256.08 78.73 L256.57 79.10 L257.05 79.46 L257.52 79.83 L258.00 80.20 L258.47 80.58 L258.94 80.95 L259.40 81.33 L259.86 81.71 L260.32 82.09 L260.77 82.47 L261.22 82.86 L261.66 83.24 L262.10 83.63 L262.54 84.02 L262.97 84.41 L263.40 84.80 L263.82 85.18 L264.23 85.55 L264.63 85.90 L265.02 86.25 L265.41 86.60 L265.80 86.96 L266.19 87.33 L266.59 87.72 L267.00 88.14 L267.41 88.58 L267.85 89.07 L268.30 89.60 L268.77 90.17 L269.24 90.77 L269.72 91.41 L270.21 92.07 L270.71 92.75 L271.21 93.46 L271.73 94.19 L272.26 94.94 L272.80 95.71 L273.35 96.50 L273.92 97.29 L274.50 98.10 L275.10 98.93 L275.72 99.79 L276.36 100.67 L277.01 101.58 L277.68 102.51 L278.35 103.44 L279.03 104.39 L279.71 105.34 L280.39 106.29 L281.07 107.24 L281.74 108.18 L282.40 109.10 L283.05 110.02 L283.70 110.93 L284.35 111.85 L285.00 112.77 L285.65 113.68 L286.30 114.60 L286.95 115.52 L287.60 116.43 L288.25 117.35 L288.90 118.27 L289.55 119.18 L290.20 120.10 L290.86 121.01 L291.53 121.92 L292.21 122.82 L292.89 123.71 L293.57 124.61 L294.25 125.51 L294.92 126.42 L295.59 127.33 L296.24 128.25 L296.88 129.19 L297.50 130.13 L298.10 131.10 L298.68 132.09 L299.24 133.12 L299.79 134.16 L300.32 135.23 L300.84 136.30 L301.35 137.38 L301.85 138.45 L302.35 139.51 L302.84 140.56 L303.33 141.57 L303.81 142.56 L304.30 143.50 L304.78 144.39 L305.24 145.24 L305.69 146.05 L306.13 146.83 L306.57 147.60 L307.01 148.35 L307.44 149.10 L307.89 149.87 L308.34 150.65 L308.81 151.46 L309.29 152.31 L309.80 153.20 L310.33 154.15 L310.90 155.15 L311.49 156.19 L312.10 157.26 L312.72 158.35 L313.34 159.44 L313.95 160.54 L314.56 161.62 L315.14 162.68 L315.70 163.70 L316.22 164.68 L316.70 165.60 L317.13 166.45 L317.52 167.22 L317.87 167.94 L318.20 168.61 L318.50 169.27 L318.79 169.91 L319.08 170.57 L319.38 171.25 L319.69 171.98 L320.03 172.77 L320.39 173.64 L320.80 174.60 L321.24 175.66 L321.71 176.78 L322.21 177.97 L322.72 179.22 L323.24 180.51 L323.78 181.83 L324.32 183.18 L324.87 184.55 L325.41 185.92 L325.95 187.30 L326.48 188.66 L327.00 190.00 L327.50 191.31 L327.99 192.60 L328.47 193.88 L328.94 195.15 L329.42 196.43 L329.89 197.72 L330.38 199.05 L330.87 200.42 L331.37 201.84 L331.89 203.31 L332.43 204.87 L333.00 206.50 L333.59 208.22 L334.21 210.03 L334.85 211.90 L335.50 213.84 L336.17 215.83 L336.84 217.86 L337.53 219.91 L338.21 221.99 L338.89 224.08 L339.57 226.17 L340.24 228.24 L340.90 230.30 L341.57 232.43 L342.28 234.71 L343.02 237.09 L343.77 239.53 L344.51 241.98 L345.24 244.39 L345.95 246.72 L346.61 248.91 L347.22 250.94 L347.76 252.74 L348.23 254.28 L348.60 255.50" fill="none" stroke="#ffa500" stroke-width="1.7" stroke-linejoin="round" stroke-linecap="butt" stroke-dasharray="4.6 2 1.1 2.3"/>
<path d="M103.70 45.60 L104.33 45.71 L105.12 45.85 L106.05 46.02 L107.09 46.20 L108.22 46.40 L109.42 46.61 L110.67 46.83 L111.94 47.06 L113.21 47.28 L114.46 47.50 L115.66 47.70 L116.80 47.90 L117.91 48.08 L119.03 48.26 L120.17 48.44 L121.31 48.61 L122.45 48.79 L123.59 48.96 L124.72 49.14 L125.83 49.32 L126.92 49.50 L127.98 49.69 L129.01 49.89 L130.00 50.10 L130.91 50.31 L131.74 50.53 L132.49 50.75 L133.20 50.98 L133.89 51.21 L134.57 51.44 L135.29 51.69 L136.04 51.93 L136.87 52.19 L137.79 52.45 L138.83 52.72 L140.00 53.00 L141.30 53.29 L142.69 53.60 L144.16 53.91 L145.70 54.24 L147.32 54.57 L149.00 54.91 L150.73 55.25 L152.52 55.59 L154.34 55.92 L156.20 56.26 L158.09 56.58 L160.00 56.90 L161.99 57.22 L164.13 57.55 L166.36 57.89 L168.67 58.23 L171.02 58.56 L173.38 58.89 L175.71 59.21 L178.00 59.52 L180.20 59.80 L182.29 60.07 L184.23 60.30 L186.00 60.50 L187.58 60.66 L189.02 60.79 L190.32 60.89 L191.52 60.97 L192.63 61.02 L193.69 61.06 L194.70 61.09 L195.70 61.12 L196.71 61.15 L197.75 61.19 L198.84 61.24 L200.00 61.30 L201.22 61.37 L202.45 61.43 L203.70 61.49 L204.96 61.55 L206.23 61.61 L207.50 61.67 L208.77 61.74 L210.04 61.82 L211.30 61.91 L212.55 62.02 L213.78 62.15 L215.00 62.30 L216.21 62.47 L217.43 62.66 L218.65 62.87 L219.86 63.09 L221.07 63.33 L222.26 63.58 L223.44 63.83 L224.61 64.10 L225.75 64.37 L226.86 64.64 L227.95 64.92 L229.00 65.20 L230.01 65.48 L230.98 65.75 L231.92 66.02 L232.83 66.30 L233.72 66.58 L234.59 66.87 L235.45 67.17 L236.30 67.49 L237.16 67.83 L238.03 68.19 L238.90 68.58 L239.80 69.00 L240.72 69.46 L241.68 69.96" fill="none" stroke="#ffa500" stroke-width="2.2" stroke-linejoin="round" stroke-linecap="butt" stroke-dasharray="4.6 2 1.1 2.3"/>
<path d="M241.68 69.96 L242.65 70.49 L243.63 71.05 L244.61 71.63 L245.58 72.22 L246.54 72.82 L247.47 73.41 L248.38 74.00 L249.24 74.56 L250.05 75.10 L250.80 75.60 L251.49 76.07 L252.12 76.51 L252.71 76.93 L253.25 77.33 L253.76 77.73 L254.24 78.11 L254.71 78.50 L255.17 78.89 L255.64 79.29 L256.10 79.70 L256.59 80.14 L257.10 80.60 L257.62 81.08 L258.14 81.57 L258.65 82.06 L259.17 82.57 L259.68 83.09 L260.19 83.61 L260.71 84.15 L261.23 84.70 L261.76 85.25 L262.30 85.82 L262.84 86.41 L263.40 87.00 L263.97 87.61 L264.55 88.22 L265.14 88.85 L265.74 89.50 L266.34 90.15 L266.95 90.81 L267.56 91.49 L268.17 92.17 L268.79 92.86 L269.40 93.57 L270.00 94.28 L270.60 95.00 L271.20 95.73 L271.80 96.49 L272.40 97.25 L273.00 98.03 L273.61 98.82 L274.21 99.61 L274.80 100.41 L275.40 101.21 L275.98 102.02 L276.56 102.82 L277.14 103.61 L277.70 104.40 L278.25 105.18 L278.80 105.97 L279.33 106.75 L279.86 107.53 L280.39 108.32 L280.91 109.10 L281.42 109.88 L281.94 110.67 L282.45 111.45 L282.97 112.23 L283.48 113.02 L284.00 113.80 L284.52 114.57 L285.03 115.31 L285.53 116.04 L286.03 116.76 L286.53 117.47 L287.03 118.20 L287.54 118.94 L288.05 119.71 L288.57 120.51 L289.10 121.36 L289.64 122.25 L290.20 123.20 L290.78 124.22 L291.38 125.30 L291.99 126.44 L292.61 127.62 L293.25 128.83 L293.89 130.07 L294.53 131.32 L295.16 132.57 L295.79 133.81 L296.41 135.04 L297.01 136.24 L297.60 137.40 L298.17 138.52 L298.72 139.60 L299.25 140.65 L299.78 141.69 L300.30 142.72 L300.82 143.75 L301.33 144.79 L301.85 145.86 L302.37 146.95 L302.90 148.08 L303.45 149.26 L304.00 150.50 L304.58 151.82 L305.19 153.24 L305.81 154.72 L306.46 156.26 L307.10 157.82 L307.74 159.40 L308.38 160.96 L308.99 162.50 L309.58 163.98 L310.13 165.38 L310.64 166.70 L311.10 167.90 L311.49 168.95 L311.82 169.85 L312.09 170.64 L312.32 171.34 L312.53 171.98 L312.72 172.61 L312.91 173.25 L313.12 173.94 L313.36 174.71 L313.65 175.58 L313.99 176.60 L314.40 177.80 L314.89 179.18 L315.43 180.71 L316.02 182.38 L316.64 184.14 L317.30 185.98 L317.98 187.88 L318.67 189.81 L319.37 191.74 L320.06 193.65 L320.73 195.51 L321.38 197.30 L322.00 199.00 L322.60 200.61 L323.20 202.18 L323.79 203.70 L324.39 205.19 L324.97 206.66 L325.55 208.12 L326.12 209.58 L326.68 211.05 L327.23 212.54 L327.77 214.05 L328.29 215.60 L328.80 217.20 L329.29 218.84 L329.77 220.50 L330.22 222.19 L330.67 223.90 L331.11 225.62 L331.53 227.36 L331.95 229.12 L332.36 230.88 L332.77 232.65 L333.18 234.43 L333.59 236.22 L334.00 238.00 L334.42 239.86 L334.87 241.85 L335.32 243.93 L335.78 246.06 L336.23 248.20 L336.68 250.30 L337.10 252.33 L337.50 254.25 L337.87 256.02 L338.19 257.59 L338.47 258.93 L338.70 260.00" fill="none" stroke="#ffa500" stroke-width="1.7" stroke-linejoin="round" stroke-linecap="butt" stroke-dasharray="4.6 2 1.1 2.3" stroke-dashoffset="5"/>
<path d="M29.05 16.75 L33.35 21.05 M29.05 21.05 L33.35 16.75" stroke="#14c014" stroke-width="2.2" fill="none"/>
<path d="M31.20 17.90 L31.20 19.90 M29.00 17.90 L33.40 17.90 M29.00 19.90 L33.40 19.90" stroke="#14c014" stroke-width="1.5" fill="none"/>
<path d="M36.55 17.75 L40.85 22.05 M36.55 22.05 L40.85 17.75" stroke="#14c014" stroke-width="2.2" fill="none"/>
<path d="M38.70 18.90 L38.70 20.90 M36.50 18.90 L40.90 18.90 M36.50 20.90 L40.90 20.90" stroke="#14c014" stroke-width="1.5" fill="none"/>
<path d="M44.05 18.95 L48.35 23.25 M44.05 23.25 L48.35 18.95" stroke="#14c014" stroke-width="2.2" fill="none"/>
<path d="M46.20 20.10 L46.20 22.10 M44.00 20.10 L48.40 20.10 M44.00 22.10 L48.40 22.10" stroke="#14c014" stroke-width="1.5" fill="none"/>
<path d="M51.55 19.85 L55.85 24.15 M51.55 24.15 L55.85 19.85" stroke="#14c014" stroke-width="2.2" fill="none"/>
<path d="M53.70 21.00 L53.70 23.00 M51.50 21.00 L55.90 21.00 M51.50 23.00 L55.90 23.00" stroke="#14c014" stroke-width="1.5" fill="none"/>
<path d="M59.05 21.70 L63.35 26.00 M59.05 26.00 L63.35 21.70" stroke="#14c014" stroke-width="2.2" fill="none"/>
<path d="M61.20 22.85 L61.20 24.85 M59.00 22.85 L63.40 22.85 M59.00 24.85 L63.40 24.85" stroke="#14c014" stroke-width="1.5" fill="none"/>
<path d="M66.55 23.55 L70.85 27.85 M66.55 27.85 L70.85 23.55" stroke="#14c014" stroke-width="2.2" fill="none"/>
<path d="M68.70 24.70 L68.70 26.70 M66.50 24.70 L70.90 24.70 M66.50 26.70 L70.90 26.70" stroke="#14c014" stroke-width="1.5" fill="none"/>
<path d="M74.05 24.85 L78.35 29.15 M74.05 29.15 L78.35 24.85" stroke="#14c014" stroke-width="2.2" fill="none"/>
<path d="M76.20 26.00 L76.20 28.00 M74.00 26.00 L78.40 26.00 M74.00 28.00 L78.40 28.00" stroke="#14c014" stroke-width="1.5" fill="none"/>
<path d="M81.55 26.75 L85.85 31.05 M81.55 31.05 L85.85 26.75" stroke="#14c014" stroke-width="2.2" fill="none"/>
<path d="M83.70 27.90 L83.70 29.90 M81.50 27.90 L85.90 27.90 M81.50 29.90 L85.90 29.90" stroke="#14c014" stroke-width="1.5" fill="none"/>
<path d="M89.05 29.25 L93.35 33.55 M89.05 33.55 L93.35 29.25" stroke="#14c014" stroke-width="2.2" fill="none"/>
<path d="M91.20 30.40 L91.20 32.40 M89.00 30.40 L93.40 30.40 M89.00 32.40 L93.40 32.40" stroke="#14c014" stroke-width="1.5" fill="none"/>
<path d="M96.55 30.75 L100.85 35.05 M96.55 35.05 L100.85 30.75" stroke="#14c014" stroke-width="2.2" fill="none"/>
<path d="M98.70 31.90 L98.70 33.90 M96.50 31.90 L100.90 31.90 M96.50 33.90 L100.90 33.90" stroke="#14c014" stroke-width="1.5" fill="none"/>
<path d="M104.05 32.65 L108.35 36.95 M104.05 36.95 L108.35 32.65" stroke="#14c014" stroke-width="2.2" fill="none"/>
<path d="M106.20 33.80 L106.20 35.80 M104.00 33.80 L108.40 33.80 M104.00 35.80 L108.40 35.80" stroke="#14c014" stroke-width="1.5" fill="none"/>
<path d="M111.55 34.55 L115.85 38.85 M111.55 38.85 L115.85 34.55" stroke="#14c014" stroke-width="2.2" fill="none"/>
<path d="M113.70 35.70 L113.70 37.70 M111.50 35.70 L115.90 35.70 M111.50 37.70 L115.90 37.70" stroke="#14c014" stroke-width="1.5" fill="none"/>
<path d="M119.05 36.35 L123.35 40.65 M119.05 40.65 L123.35 36.35" stroke="#14c014" stroke-width="2.2" fill="none"/>
<path d="M121.20 37.50 L121.20 39.50 M119.00 37.50 L123.40 37.50 M119.00 39.50 L123.40 39.50" stroke="#14c014" stroke-width="1.5" fill="none"/>
<path d="M126.55 37.95 L130.85 42.25 M126.55 42.25 L130.85 37.95" stroke="#14c014" stroke-width="2.2" fill="none"/>
<path d="M128.70 39.10 L128.70 41.10 M126.50 39.10 L130.90 39.10 M126.50 41.10 L130.90 41.10" stroke="#14c014" stroke-width="1.5" fill="none"/>
<path d="M134.05 39.65 L138.35 43.95 M134.05 43.95 L138.35 39.65" stroke="#14c014" stroke-width="2.2" fill="none"/>
<path d="M136.20 40.80 L136.20 42.80 M134.00 40.80 L138.40 40.80 M134.00 42.80 L138.40 42.80" stroke="#14c014" stroke-width="1.5" fill="none"/>
<path d="M141.55 42.25 L145.85 46.55 M141.55 46.55 L145.85 42.25" stroke="#14c014" stroke-width="2.2" fill="none"/>
<path d="M143.70 43.40 L143.70 45.40 M141.50 43.40 L145.90 43.40 M141.50 45.40 L145.90 45.40" stroke="#14c014" stroke-width="1.5" fill="none"/>
<path d="M149.05 43.65 L153.35 47.95 M149.05 47.95 L153.35 43.65" stroke="#14c014" stroke-width="2.2" fill="none"/>
<path d="M151.20 44.80 L151.20 46.80 M149.00 44.80 L153.40 44.80 M149.00 46.80 L153.40 46.80" stroke="#14c014" stroke-width="1.5" fill="none"/>
<path d="M156.55 45.55 L160.85 49.85 M156.55 49.85 L160.85 45.55" stroke="#14c014" stroke-width="2.2" fill="none"/>
<path d="M158.70 46.70 L158.70 48.70 M156.50 46.70 L160.90 46.70 M156.50 48.70 L160.90 48.70" stroke="#14c014" stroke-width="1.5" fill="none"/>
<path d="M164.05 47.45 L168.35 51.75 M164.05 51.75 L168.35 47.45" stroke="#14c014" stroke-width="2.2" fill="none"/>
<path d="M166.20 48.60 L166.20 50.60 M164.00 48.60 L168.40 48.60 M164.00 50.60 L168.40 50.60" stroke="#14c014" stroke-width="1.5" fill="none"/>
<path d="M171.55 49.55 L175.85 53.85 M171.55 53.85 L175.85 49.55" stroke="#14c014" stroke-width="2.2" fill="none"/>
<path d="M173.70 50.70 L173.70 52.70 M171.50 50.70 L175.90 50.70 M171.50 52.70 L175.90 52.70" stroke="#14c014" stroke-width="1.5" fill="none"/>
<path d="M179.05 51.40 L183.35 55.70 M179.05 55.70 L183.35 51.40" stroke="#14c014" stroke-width="2.2" fill="none"/>
<path d="M181.20 52.55 L181.20 54.55 M179.00 52.55 L183.40 52.55 M179.00 54.55 L183.40 54.55" stroke="#14c014" stroke-width="1.5" fill="none"/>
<path d="M186.55 53.75 L190.85 58.05 M186.55 58.05 L190.85 53.75" stroke="#14c014" stroke-width="2.2" fill="none"/>
<path d="M188.70 54.90 L188.70 56.90 M186.50 54.90 L190.90 54.90 M186.50 56.90 L190.90 56.90" stroke="#14c014" stroke-width="1.5" fill="none"/>
<path d="M194.05 56.15 L198.35 60.45 M194.05 60.45 L198.35 56.15" stroke="#14c014" stroke-width="2.2" fill="none"/>
<path d="M196.20 57.30 L196.20 59.30 M194.00 57.30 L198.40 57.30 M194.00 59.30 L198.40 59.30" stroke="#14c014" stroke-width="1.5" fill="none"/>
<path d="M201.55 58.75 L205.85 63.05 M201.55 63.05 L205.85 58.75" stroke="#14c014" stroke-width="2.2" fill="none"/>
<path d="M203.70 59.90 L203.70 61.90 M201.50 59.90 L205.90 59.90 M201.50 61.90 L205.90 61.90" stroke="#14c014" stroke-width="1.5" fill="none"/>
<path d="M209.05 62.25 L213.35 66.55 M209.05 66.55 L213.35 62.25" stroke="#14c014" stroke-width="2.2" fill="none"/>
<path d="M211.20 63.40 L211.20 65.40 M209.00 63.40 L213.40 63.40 M209.00 65.40 L213.40 65.40" stroke="#14c014" stroke-width="1.5" fill="none"/>
<path d="M216.55 65.55 L220.85 69.85 M216.55 69.85 L220.85 65.55" stroke="#14c014" stroke-width="2.2" fill="none"/>
<path d="M218.70 66.70 L218.70 68.70 M216.50 66.70 L220.90 66.70 M216.50 68.70 L220.90 68.70" stroke="#14c014" stroke-width="1.5" fill="none"/>
<path d="M224.05 68.65 L228.35 72.95 M224.05 72.95 L228.35 68.65" stroke="#14c014" stroke-width="2.2" fill="none"/>
<path d="M226.20 69.80 L226.20 71.80 M224.00 69.80 L228.40 69.80 M224.00 71.80 L228.40 71.80" stroke="#14c014" stroke-width="1.5" fill="none"/>
<path d="M231.55 73.05 L235.85 77.35 M231.55 77.35 L235.85 73.05" stroke="#14c014" stroke-width="2.2" fill="none"/>
<path d="M233.70 74.20 L233.70 76.20 M231.50 74.20 L235.90 74.20 M231.50 76.20 L235.90 76.20" stroke="#14c014" stroke-width="1.5" fill="none"/>
<path d="M239.05 77.15 L243.35 81.45 M239.05 81.45 L243.35 77.15" stroke="#14c014" stroke-width="2.2" fill="none"/>
<path d="M241.20 78.30 L241.20 80.30 M239.00 78.30 L243.40 78.30 M239.00 80.30 L243.40 80.30" stroke="#14c014" stroke-width="1.5" fill="none"/>
<path d="M246.55 83.15 L250.85 87.45 M246.55 87.45 L250.85 83.15" stroke="#14c014" stroke-width="2.2" fill="none"/>
<path d="M248.70 84.30 L248.70 86.30 M246.50 84.30 L250.90 84.30 M246.50 86.30 L250.90 86.30" stroke="#14c014" stroke-width="1.5" fill="none"/>
<path d="M254.05 88.15 L258.35 92.45 M254.05 92.45 L258.35 88.15" stroke="#14c014" stroke-width="2.2" fill="none"/>
<path d="M256.20 89.10 L256.20 91.50 M254.00 89.10 L258.40 89.10 M254.00 91.50 L258.40 91.50" stroke="#14c014" stroke-width="1.5" fill="none"/>
<path d="M261.55 94.05 L265.85 98.35 M261.55 98.35 L265.85 94.05" stroke="#14c014" stroke-width="2.2" fill="none"/>
<path d="M263.70 94.90 L263.70 97.50 M261.50 94.90 L265.90 94.90 M261.50 97.50 L265.90 97.50" stroke="#14c014" stroke-width="1.5" fill="none"/>
<path d="M269.05 99.45 L273.35 103.75 M269.05 103.75 L273.35 99.45" stroke="#14c014" stroke-width="2.2" fill="none"/>
<path d="M271.20 100.20 L271.20 103.00 M269.00 100.20 L273.40 100.20 M269.00 103.00 L273.40 103.00" stroke="#14c014" stroke-width="1.5" fill="none"/>
<path d="M276.55 108.95 L280.85 113.25 M276.55 113.25 L280.85 108.95" stroke="#14c014" stroke-width="2.2" fill="none"/>
<path d="M278.70 109.50 L278.70 112.70 M276.50 109.50 L280.90 109.50 M276.50 112.70 L280.90 112.70" stroke="#14c014" stroke-width="1.5" fill="none"/>
<path d="M284.05 118.95 L288.35 123.25 M284.05 123.25 L288.35 118.95" stroke="#14c014" stroke-width="2.2" fill="none"/>
<path d="M286.20 119.30 L286.20 122.90 M284.00 119.30 L288.40 119.30 M284.00 122.90 L288.40 122.90" stroke="#14c014" stroke-width="1.5" fill="none"/>
<path d="M291.55 128.05 L295.85 132.35 M291.55 132.35 L295.85 128.05" stroke="#14c014" stroke-width="2.2" fill="none"/>
<path d="M293.70 128.20 L293.70 132.20 M291.50 128.20 L295.90 128.20 M291.50 132.20 L295.90 132.20" stroke="#14c014" stroke-width="1.5" fill="none"/>
<path d="M299.05 140.85 L303.35 145.15 M299.05 145.15 L303.35 140.85" stroke="#14c014" stroke-width="2.2" fill="none"/>
<path d="M301.20 140.80 L301.20 145.20 M299.00 140.80 L303.40 140.80 M299.00 145.20 L303.40 145.20" stroke="#14c014" stroke-width="1.5" fill="none"/>
<path d="M306.55 157.25 L310.85 161.55 M306.55 161.55 L310.85 157.25" stroke="#14c014" stroke-width="2.2" fill="none"/>
<path d="M308.70 156.80 L308.70 162.00 M306.50 156.80 L310.90 156.80 M306.50 162.00 L310.90 162.00" stroke="#14c014" stroke-width="1.5" fill="none"/>
<path d="M314.05 168.30 L318.35 172.60 M314.05 172.60 L318.35 168.30" stroke="#14c014" stroke-width="2.2" fill="none"/>
<path d="M316.20 166.75 L316.20 174.15 M314.00 166.75 L318.40 166.75 M314.00 174.15 L318.40 174.15" stroke="#14c014" stroke-width="1.5" fill="none"/>
<path d="M321.55 181.25 L325.85 185.55 M321.55 185.55 L325.85 181.25" stroke="#14c014" stroke-width="2.2" fill="none"/>
<path d="M323.70 180.10 L323.70 186.70 M321.50 180.10 L325.90 180.10 M321.50 186.70 L325.90 186.70" stroke="#14c014" stroke-width="1.5" fill="none"/>
<path d="M329.05 197.65 L333.35 201.95 M329.05 201.95 L333.35 197.65" stroke="#14c014" stroke-width="2.2" fill="none"/>
<path d="M331.20 195.10 L331.20 204.50 M329.00 195.10 L333.40 195.10 M329.00 204.50 L333.40 204.50" stroke="#14c014" stroke-width="1.5" fill="none"/>
<path d="M336.55 195.15 L340.85 199.45 M336.55 199.45 L340.85 195.15" stroke="#14c014" stroke-width="2.2" fill="none"/>
<path d="M338.70 191.65 L338.70 205.40 M336.50 191.65 L340.90 191.65 M336.50 205.40 L340.90 205.40" stroke="#14c014" stroke-width="1.5" fill="none"/>
<path d="M344.05 219.15 L348.35 223.45 M344.05 223.45 L348.35 219.15" stroke="#14c014" stroke-width="2.2" fill="none"/>
<path d="M346.20 211.80 L346.20 239.30 M344.00 211.80 L348.40 211.80 M344.00 239.30 L348.40 239.30" stroke="#14c014" stroke-width="1.5" fill="none"/>
<rect x="29.05" y="16.75" width="4.30" height="4.30" stroke="#0000ee" stroke-width="1.8" fill="none"/>
<path d="M31.20 18.35 L31.20 19.45 M29.60 18.35 L32.80 18.35 M29.60 19.45 L32.80 19.45" stroke="#0000ee" stroke-width="1.1" fill="none"/>
<path d="M29.80 17.85 H32.60" stroke="#30e830" stroke-width="1.15" opacity="0.85"/>
<path d="M29.80 19.95 H32.60" stroke="#30e830" stroke-width="1.15" opacity="1"/>
<rect x="36.55" y="17.75" width="4.30" height="4.30" stroke="#0000ee" stroke-width="1.8" fill="none"/>
<path d="M38.70 19.35 L38.70 20.45 M37.10 19.35 L40.30 19.35 M37.10 20.45 L40.30 20.45" stroke="#0000ee" stroke-width="1.1" fill="none"/>
<path d="M37.30 18.85 H40.10" stroke="#30e830" stroke-width="1.15" opacity="0.85"/>
<path d="M37.30 20.95 H40.10" stroke="#30e830" stroke-width="1.15" opacity="1"/>
<rect x="44.05" y="18.95" width="4.30" height="4.30" stroke="#0000ee" stroke-width="1.8" fill="none"/>
<path d="M46.20 20.55 L46.20 21.65 M44.60 20.55 L47.80 20.55 M44.60 21.65 L47.80 21.65" stroke="#0000ee" stroke-width="1.1" fill="none"/>
<path d="M44.80 20.05 H47.60" stroke="#30e830" stroke-width="1.15" opacity="0.85"/>
<path d="M44.80 22.15 H47.60" stroke="#30e830" stroke-width="1.15" opacity="1"/>
<rect x="51.55" y="19.85" width="4.30" height="4.30" stroke="#0000ee" stroke-width="1.8" fill="none"/>
<path d="M53.70 21.45 L53.70 22.55 M52.10 21.45 L55.30 21.45 M52.10 22.55 L55.30 22.55" stroke="#0000ee" stroke-width="1.1" fill="none"/>
<path d="M52.30 20.95 H55.10" stroke="#30e830" stroke-width="1.15" opacity="0.85"/>
<path d="M52.30 23.05 H55.10" stroke="#30e830" stroke-width="1.15" opacity="1"/>
<rect x="59.05" y="21.70" width="4.30" height="4.30" stroke="#0000ee" stroke-width="1.8" fill="none"/>
<path d="M61.20 23.30 L61.20 24.40 M59.60 23.30 L62.80 23.30 M59.60 24.40 L62.80 24.40" stroke="#0000ee" stroke-width="1.1" fill="none"/>
<path d="M59.80 22.80 H62.60" stroke="#30e830" stroke-width="1.15" opacity="0.85"/>
<path d="M59.80 24.90 H62.60" stroke="#30e830" stroke-width="1.15" opacity="1"/>
<rect x="66.55" y="23.55" width="4.30" height="4.30" stroke="#0000ee" stroke-width="1.8" fill="none"/>
<path d="M68.70 25.15 L68.70 26.25 M67.10 25.15 L70.30 25.15 M67.10 26.25 L70.30 26.25" stroke="#0000ee" stroke-width="1.1" fill="none"/>
<path d="M67.30 24.65 H70.10" stroke="#30e830" stroke-width="1.15" opacity="0.85"/>
<path d="M67.30 26.75 H70.10" stroke="#30e830" stroke-width="1.15" opacity="1"/>
<rect x="74.05" y="24.85" width="4.30" height="4.30" stroke="#0000ee" stroke-width="1.8" fill="none"/>
<path d="M76.20 26.45 L76.20 27.55 M74.60 26.45 L77.80 26.45 M74.60 27.55 L77.80 27.55" stroke="#0000ee" stroke-width="1.1" fill="none"/>
<path d="M74.80 25.95 H77.60" stroke="#30e830" stroke-width="1.15" opacity="0.85"/>
<path d="M74.80 28.05 H77.60" stroke="#30e830" stroke-width="1.15" opacity="1"/>
<rect x="81.55" y="26.75" width="4.30" height="4.30" stroke="#0000ee" stroke-width="1.8" fill="none"/>
<path d="M83.70 28.35 L83.70 29.45 M82.10 28.35 L85.30 28.35 M82.10 29.45 L85.30 29.45" stroke="#0000ee" stroke-width="1.1" fill="none"/>
<path d="M82.30 27.85 H85.10" stroke="#30e830" stroke-width="1.15" opacity="0.85"/>
<path d="M82.30 29.95 H85.10" stroke="#30e830" stroke-width="1.15" opacity="1"/>
<rect x="89.05" y="29.25" width="4.30" height="4.30" stroke="#0000ee" stroke-width="1.8" fill="none"/>
<path d="M91.20 30.85 L91.20 31.95 M89.60 30.85 L92.80 30.85 M89.60 31.95 L92.80 31.95" stroke="#0000ee" stroke-width="1.1" fill="none"/>
<path d="M89.80 30.35 H92.60" stroke="#30e830" stroke-width="1.15" opacity="0.85"/>
<path d="M89.80 32.45 H92.60" stroke="#30e830" stroke-width="1.15" opacity="1"/>
<rect x="96.55" y="30.75" width="4.30" height="4.30" stroke="#0000ee" stroke-width="1.8" fill="none"/>
<path d="M98.70 32.35 L98.70 33.45 M97.10 32.35 L100.30 32.35 M97.10 33.45 L100.30 33.45" stroke="#0000ee" stroke-width="1.1" fill="none"/>
<path d="M97.30 31.85 H100.10" stroke="#30e830" stroke-width="1.15" opacity="0.85"/>
<path d="M97.30 33.95 H100.10" stroke="#30e830" stroke-width="1.15" opacity="1"/>
<rect x="104.05" y="32.65" width="4.30" height="4.30" stroke="#0000ee" stroke-width="1.8" fill="none"/>
<path d="M106.20 34.25 L106.20 35.35 M104.60 34.25 L107.80 34.25 M104.60 35.35 L107.80 35.35" stroke="#0000ee" stroke-width="1.1" fill="none"/>
<path d="M104.80 33.75 H107.60" stroke="#30e830" stroke-width="1.15" opacity="0.85"/>
<path d="M104.80 35.85 H107.60" stroke="#30e830" stroke-width="1.15" opacity="1"/>
<rect x="111.55" y="34.55" width="4.30" height="4.30" stroke="#0000ee" stroke-width="1.8" fill="none"/>
<path d="M113.70 36.15 L113.70 37.25 M112.10 36.15 L115.30 36.15 M112.10 37.25 L115.30 37.25" stroke="#0000ee" stroke-width="1.1" fill="none"/>
<path d="M112.30 35.65 H115.10" stroke="#30e830" stroke-width="1.15" opacity="0.85"/>
<path d="M112.30 37.75 H115.10" stroke="#30e830" stroke-width="1.15" opacity="1"/>
<rect x="119.05" y="36.35" width="4.30" height="4.30" stroke="#0000ee" stroke-width="1.8" fill="none"/>
<path d="M121.20 37.95 L121.20 39.05 M119.60 37.95 L122.80 37.95 M119.60 39.05 L122.80 39.05" stroke="#0000ee" stroke-width="1.1" fill="none"/>
<path d="M119.80 37.45 H122.60" stroke="#30e830" stroke-width="1.15" opacity="0.85"/>
<path d="M119.80 39.55 H122.60" stroke="#30e830" stroke-width="1.15" opacity="1"/>
<rect x="126.55" y="37.95" width="4.30" height="4.30" stroke="#0000ee" stroke-width="1.8" fill="none"/>
<path d="M128.70 39.55 L128.70 40.65 M127.10 39.55 L130.30 39.55 M127.10 40.65 L130.30 40.65" stroke="#0000ee" stroke-width="1.1" fill="none"/>
<path d="M127.30 39.05 H130.10" stroke="#30e830" stroke-width="1.15" opacity="0.85"/>
<path d="M127.30 41.15 H130.10" stroke="#30e830" stroke-width="1.15" opacity="1"/>
<rect x="134.05" y="39.65" width="4.30" height="4.30" stroke="#0000ee" stroke-width="1.8" fill="none"/>
<path d="M136.20 41.25 L136.20 42.35 M134.60 41.25 L137.80 41.25 M134.60 42.35 L137.80 42.35" stroke="#0000ee" stroke-width="1.1" fill="none"/>
<path d="M134.80 40.75 H137.60" stroke="#30e830" stroke-width="1.15" opacity="0.85"/>
<path d="M134.80 42.85 H137.60" stroke="#30e830" stroke-width="1.15" opacity="1"/>
<rect x="141.50" y="40.85" width="4.40" height="5.10" stroke="#0000ee" stroke-width="1.85" fill="none"/>
<path d="M143.70 42.20 L143.70 44.60 M142.10 42.20 L145.30 42.20 M142.10 44.60 L145.30 44.60" stroke="#0000ee" stroke-width="0.9" fill="none"/>
<path d="M142.40 42.95 H145.00" stroke="#fff" stroke-width="1.0" opacity="0.8"/>
<rect x="149.00" y="41.95" width="4.40" height="5.10" stroke="#0000ee" stroke-width="1.85" fill="none"/>
<path d="M151.20 43.30 L151.20 45.70 M149.60 43.30 L152.80 43.30 M149.60 45.70 L152.80 45.70" stroke="#0000ee" stroke-width="0.9" fill="none"/>
<path d="M149.90 44.05 H152.50" stroke="#fff" stroke-width="1.0" opacity="0.8"/>
<rect x="156.50" y="43.55" width="4.40" height="5.10" stroke="#0000ee" stroke-width="1.85" fill="none"/>
<path d="M158.70 44.90 L158.70 47.30 M157.10 44.90 L160.30 44.90 M157.10 47.30 L160.30 47.30" stroke="#0000ee" stroke-width="0.9" fill="none"/>
<path d="M157.40 45.65 H160.00" stroke="#fff" stroke-width="1.0" opacity="0.8"/>
<rect x="164.00" y="45.15" width="4.40" height="5.10" stroke="#0000ee" stroke-width="1.85" fill="none"/>
<path d="M166.20 46.50 L166.20 48.90 M164.60 46.50 L167.80 46.50 M164.60 48.90 L167.80 48.90" stroke="#0000ee" stroke-width="0.9" fill="none"/>
<path d="M164.90 47.25 H167.50" stroke="#fff" stroke-width="1.0" opacity="0.8"/>
<rect x="171.50" y="46.95" width="4.40" height="5.10" stroke="#0000ee" stroke-width="1.85" fill="none"/>
<path d="M173.70 48.30 L173.70 50.70 M172.10 48.30 L175.30 48.30 M172.10 50.70 L175.30 50.70" stroke="#0000ee" stroke-width="0.9" fill="none"/>
<path d="M172.40 49.05 H175.00" stroke="#fff" stroke-width="1.0" opacity="0.8"/>
<rect x="179.00" y="48.40" width="4.40" height="5.10" stroke="#0000ee" stroke-width="1.85" fill="none"/>
<path d="M181.20 49.75 L181.20 52.15 M179.60 49.75 L182.80 49.75 M179.60 52.15 L182.80 52.15" stroke="#0000ee" stroke-width="0.9" fill="none"/>
<path d="M179.90 50.50 H182.50" stroke="#fff" stroke-width="1.0" opacity="0.8"/>
<rect x="186.50" y="50.35" width="4.40" height="5.10" stroke="#0000ee" stroke-width="1.85" fill="none"/>
<path d="M188.70 51.70 L188.70 54.10 M187.10 51.70 L190.30 51.70 M187.10 54.10 L190.30 54.10" stroke="#0000ee" stroke-width="0.9" fill="none"/>
<path d="M187.40 52.45 H190.00" stroke="#fff" stroke-width="1.0" opacity="0.8"/>
<rect x="194.00" y="52.35" width="4.40" height="5.10" stroke="#0000ee" stroke-width="1.85" fill="none"/>
<path d="M196.20 53.70 L196.20 56.10 M194.60 53.70 L197.80 53.70 M194.60 56.10 L197.80 56.10" stroke="#0000ee" stroke-width="0.9" fill="none"/>
<path d="M194.90 54.45 H197.50" stroke="#fff" stroke-width="1.0" opacity="0.8"/>
<rect x="201.50" y="54.15" width="4.40" height="5.10" stroke="#0000ee" stroke-width="1.85" fill="none"/>
<path d="M203.70 55.50 L203.70 57.90 M202.10 55.50 L205.30 55.50 M202.10 57.90 L205.30 57.90" stroke="#0000ee" stroke-width="0.9" fill="none"/>
<path d="M202.40 56.25 H205.00" stroke="#fff" stroke-width="1.0" opacity="0.8"/>
<rect x="209.00" y="56.45" width="4.40" height="5.10" stroke="#0000ee" stroke-width="1.85" fill="none"/>
<path d="M211.20 57.80 L211.20 60.20 M209.60 57.80 L212.80 57.80 M209.60 60.20 L212.80 60.20" stroke="#0000ee" stroke-width="0.9" fill="none"/>
<path d="M209.90 58.55 H212.50" stroke="#fff" stroke-width="1.0" opacity="0.8"/>
<rect x="216.50" y="59.00" width="4.40" height="5.10" stroke="#0000ee" stroke-width="1.85" fill="none"/>
<path d="M218.70 60.35 L218.70 62.75 M217.10 60.35 L220.30 60.35 M217.10 62.75 L220.30 62.75" stroke="#0000ee" stroke-width="0.9" fill="none"/>
<path d="M217.40 61.10 H220.00" stroke="#fff" stroke-width="1.0" opacity="0.8"/>
<rect x="224.00" y="61.85" width="4.40" height="5.10" stroke="#0000ee" stroke-width="1.85" fill="none"/>
<path d="M226.20 63.20 L226.20 65.60 M224.60 63.20 L227.80 63.20 M224.60 65.60 L227.80 65.60" stroke="#0000ee" stroke-width="0.9" fill="none"/>
<path d="M224.90 63.95 H227.50" stroke="#fff" stroke-width="1.0" opacity="0.8"/>
<rect x="231.50" y="66.35" width="4.40" height="5.10" stroke="#0000ee" stroke-width="1.85" fill="none"/>
<path d="M233.70 67.70 L233.70 70.10 M232.10 67.70 L235.30 67.70 M232.10 70.10 L235.30 70.10" stroke="#0000ee" stroke-width="0.9" fill="none"/>
<path d="M232.40 68.45 H235.00" stroke="#fff" stroke-width="1.0" opacity="0.8"/>
<rect x="239.00" y="71.20" width="4.40" height="5.10" stroke="#0000ee" stroke-width="1.85" fill="none"/>
<path d="M241.20 72.55 L241.20 74.95 M239.60 72.55 L242.80 72.55 M239.60 74.95 L242.80 74.95" stroke="#0000ee" stroke-width="0.9" fill="none"/>
<path d="M239.90 73.30 H242.50" stroke="#fff" stroke-width="1.0" opacity="0.8"/>
<rect x="246.50" y="77.50" width="4.40" height="5.10" stroke="#0000ee" stroke-width="1.85" fill="none"/>
<path d="M248.70 78.85 L248.70 81.25 M247.10 78.85 L250.30 78.85 M247.10 81.25 L250.30 81.25" stroke="#0000ee" stroke-width="0.9" fill="none"/>
<path d="M247.40 79.60 H250.00" stroke="#fff" stroke-width="1.0" opacity="0.8"/>
<rect x="254.00" y="83.45" width="4.40" height="5.10" stroke="#0000ee" stroke-width="1.85" fill="none"/>
<path d="M256.20 84.80 L256.20 87.20 M254.60 84.80 L257.80 84.80 M254.60 87.20 L257.80 87.20" stroke="#0000ee" stroke-width="0.9" fill="none"/>
<path d="M254.90 85.55 H257.50" stroke="#fff" stroke-width="1.0" opacity="0.8"/>
<rect x="261.50" y="92.25" width="4.40" height="5.10" stroke="#0000ee" stroke-width="1.85" fill="none"/>
<path d="M263.70 93.60 L263.70 96.00 M262.10 93.60 L265.30 93.60 M262.10 96.00 L265.30 96.00" stroke="#0000ee" stroke-width="0.9" fill="none"/>
<path d="M262.40 94.35 H265.00" stroke="#fff" stroke-width="1.0" opacity="0.8"/>
<rect x="269.00" y="100.15" width="4.40" height="5.10" stroke="#0000ee" stroke-width="1.85" fill="none"/>
<path d="M271.20 101.50 L271.20 103.90 M269.60 101.50 L272.80 101.50 M269.60 103.90 L272.80 103.90" stroke="#0000ee" stroke-width="0.9" fill="none"/>
<path d="M269.90 102.25 H272.50" stroke="#fff" stroke-width="1.0" opacity="0.8"/>
<rect x="276.55" y="114.55" width="4.30" height="4.30" stroke="#0000ee" stroke-width="1.8" fill="none"/>
<path d="M278.70 115.50 L278.70 117.90 M277.10 115.50 L280.30 115.50 M277.10 117.90 L280.30 117.90" stroke="#0000ee" stroke-width="0.9" fill="none"/>
<path d="M277.40 116.25 H280.00" stroke="#fff" stroke-width="1.0" opacity="0.8"/>
<rect x="284.05" y="126.55" width="4.30" height="4.30" stroke="#0000ee" stroke-width="1.8" fill="none"/>
<path d="M286.20 127.50 L286.20 129.90 M284.60 127.50 L287.80 127.50 M284.60 129.90 L287.80 129.90" stroke="#0000ee" stroke-width="0.9" fill="none"/>
<path d="M284.90 128.25 H287.50" stroke="#fff" stroke-width="1.0" opacity="0.8"/>
<rect x="291.55" y="140.35" width="4.30" height="4.30" stroke="#0000ee" stroke-width="1.8" fill="none"/>
<path d="M293.70 140.50 L293.70 144.50 M291.50 140.50 L295.90 140.50 M291.50 144.50 L295.90 144.50" stroke="#0000ee" stroke-width="1.5" fill="none"/>
<rect x="299.05" y="151.45" width="4.30" height="4.30" stroke="#0000ee" stroke-width="1.8" fill="none"/>
<path d="M301.20 151.20 L301.20 156.00 M299.00 151.20 L303.40 151.20 M299.00 156.00 L303.40 156.00" stroke="#0000ee" stroke-width="1.5" fill="none"/>
<rect x="306.55" y="169.65" width="4.30" height="4.30" stroke="#0000ee" stroke-width="1.8" fill="none"/>
<path d="M308.70 168.70 L308.70 174.90 M306.50 168.70 L310.90 168.70 M306.50 174.90 L310.90 174.90" stroke="#0000ee" stroke-width="1.5" fill="none"/>
<rect x="314.05" y="178.35" width="4.30" height="4.30" stroke="#0000ee" stroke-width="1.8" fill="none"/>
<path d="M316.20 177.00 L316.20 184.00 M314.00 177.00 L318.40 177.00 M314.00 184.00 L318.40 184.00" stroke="#0000ee" stroke-width="1.5" fill="none"/>
<rect x="321.55" y="190.95" width="4.30" height="4.30" stroke="#0000ee" stroke-width="1.8" fill="none"/>
<path d="M323.70 186.90 L323.70 200.10 M321.50 186.90 L325.90 186.90 M321.50 200.10 L325.90 200.10" stroke="#0000ee" stroke-width="1.5" fill="none"/>
<rect x="329.05" y="204.85" width="4.30" height="4.30" stroke="#0000ee" stroke-width="1.8" fill="none"/>
<path d="M331.20 199.80 L331.20 218.20 M329.00 199.80 L333.40 199.80 M329.00 218.20 L333.40 218.20" stroke="#0000ee" stroke-width="1.5" fill="none"/>
<rect x="336.55" y="213.35" width="4.30" height="4.30" stroke="#0000ee" stroke-width="1.8" fill="none"/>
<path d="M338.70 206.75 L338.70 230.00 M336.50 206.75 L340.90 206.75 M336.50 230.00 L340.90 230.00" stroke="#0000ee" stroke-width="1.5" fill="none"/>
</g>
<path d="M26.67 292.45 L25.51 292.84 L25.12 293.62 L25.12 294.39 L25.51 295.17 L26.29 295.56 L27.84 295.94 L29.00 296.33 L29.78 297.11 L30.17 297.88 L30.17 299.05 L29.78 299.82 L29.39 300.21 L28.23 300.60 L26.67 300.60 L25.51 300.21 L25.12 299.82 L24.73 299.05 L24.73 297.88 L25.12 297.11 L25.90 296.33 L27.06 295.94 L28.61 295.56 L29.39 295.17 L29.78 294.39 L29.78 293.62 L29.39 292.84 L28.23 292.45 L26.67 292.45 M104.78 295.17 L104.39 296.33 L103.61 297.11 L102.45 297.50 L102.06 297.50 L100.90 297.11 L100.12 296.33 L99.73 295.17 L99.73 294.78 L100.12 293.62 L100.90 292.84 L102.06 292.45 L102.45 292.45 L103.61 292.84 L104.39 293.62 L104.78 295.17 L104.78 297.11 L104.39 299.05 L103.61 300.21 L102.45 300.60 L101.67 300.60 L100.51 300.21 L100.12 299.44 M172.02 294.00 L172.79 293.62 L173.96 292.45 L173.96 300.60 M180.94 292.45 L179.78 292.84 L179.00 294.00 L178.61 295.94 L178.61 297.11 L179.00 299.05 L179.78 300.21 L180.94 300.60 L181.72 300.60 L182.88 300.21 L183.66 299.05 L184.05 297.11 L184.05 295.94 L183.66 294.00 L182.88 292.84 L181.72 292.45 L180.94 292.45 M247.02 294.00 L247.79 293.62 L248.96 292.45 L248.96 300.60 M254.78 294.00 L255.55 293.62 L256.72 292.45 L256.72 300.60 M322.02 294.00 L322.79 293.62 L323.96 292.45 L323.96 300.60 M329.00 294.39 L329.00 294.00 L329.39 293.23 L329.78 292.84 L330.55 292.45 L332.11 292.45 L332.88 292.84 L333.27 293.23 L333.66 294.00 L333.66 294.78 L333.27 295.56 L332.49 296.72 L328.61 300.60 L334.05 300.60 M-0.10 5.31 L6.89 5.31 M10.77 2.20 L11.54 1.82 L12.71 0.65 L12.71 8.80 M-0.10 48.71 L6.89 48.71 M9.99 45.99 L9.99 45.60 L10.38 44.83 L10.77 44.44 L11.54 44.05 L13.10 44.05 L13.87 44.44 L14.26 44.83 L14.65 45.60 L14.65 46.38 L14.26 47.16 L13.48 48.32 L9.60 52.20 L15.04 52.20 M-0.10 95.86 L6.89 95.86 M10.38 91.20 L14.65 91.20 L12.32 94.31 L13.48 94.31 L14.26 94.69 L14.65 95.08 L15.04 96.25 L15.04 97.02 L14.65 98.19 L13.87 98.96 L12.71 99.35 L11.54 99.35 L10.38 98.96 L9.99 98.57 L9.60 97.80 M-0.10 143.01 L6.89 143.01 M13.48 138.35 L9.60 143.78 L15.42 143.78 M13.48 138.35 L13.48 146.50 M-0.10 190.16 L6.89 190.16 M14.26 185.50 L10.38 185.50 L9.99 188.99 L10.38 188.61 L11.54 188.22 L12.71 188.22 L13.87 188.61 L14.65 189.38 L15.04 190.55 L15.04 191.32 L14.65 192.49 L13.87 193.26 L12.71 193.65 L11.54 193.65 L10.38 193.26 L9.99 192.87 L9.60 192.10 M-0.10 237.31 L6.89 237.31 M14.65 233.82 L14.26 233.04 L13.10 232.65 L12.32 232.65 L11.16 233.04 L10.38 234.20 L9.99 236.14 L9.99 238.08 L10.38 239.64 L11.16 240.41 L12.32 240.80 L12.71 240.80 L13.87 240.41 L14.65 239.64 L15.04 238.47 L15.04 238.08 L14.65 236.92 L13.87 236.14 L12.71 235.76 L12.32 235.76 L11.16 236.14 L10.38 236.92 L9.99 238.08 M-0.10 279.51 L6.89 279.51 M15.04 274.85 L11.16 283.00 M9.60 274.85 L15.04 274.85 M332.55 18.85 L328.50 24.00 M328.50 18.85 L332.55 18.85 M328.50 24.00 L332.55 24.00 M335.13 19.58 L341.75 19.58 M335.13 21.79 L341.75 21.79 M346.54 16.27 L345.43 16.64 L344.70 17.74 L344.33 19.58 L344.33 20.69 L344.70 22.53 L345.43 23.63 L346.54 24.00 L347.27 24.00 L348.38 23.63 L349.11 22.53 L349.48 20.69 L349.48 19.58 L349.11 17.74 L348.38 16.64 L347.27 16.27 L346.54 16.27 M159.60 307.45 L159.60 315.60 M159.60 315.60 L164.26 315.60 M167.75 310.17 L166.97 310.56 L166.20 311.33 L165.81 312.50 L165.81 313.27 L166.20 314.44 L166.97 315.21 L167.75 315.60 L168.91 315.60 L169.69 315.21 L170.47 314.44 L170.85 313.27 L170.85 312.50 L170.47 311.33 L169.69 310.56 L168.91 310.17 L167.75 310.17 M177.84 310.17 L177.84 316.38 L177.45 317.54 L177.06 317.93 L176.29 318.32 L175.12 318.32 L174.35 317.93 M177.84 311.33 L177.06 310.56 L176.29 310.17 L175.12 310.17 L174.35 310.56 L173.57 311.33 L173.18 312.50 L173.18 313.27 L173.57 314.44 L174.35 315.21 L175.12 315.60 L176.29 315.60 L177.06 315.21 L177.84 314.44 M187.15 307.45 L187.15 315.60 M187.15 307.45 L190.25 315.60 M193.36 307.45 L190.25 315.60 M193.36 307.45 L193.36 315.60 M85.87 199.73 L85.87 205.60 M85.87 199.73 L89.50 199.73 M85.87 202.53 L88.10 202.53 M90.90 199.73 L90.90 205.60 M90.90 199.73 L94.53 199.73 M90.90 202.53 L93.14 202.53 M90.90 205.60 L94.53 205.60 M100.12 201.13 L99.84 200.57 L99.28 200.01 L98.73 199.73 L97.61 199.73 L97.05 200.01 L96.49 200.57 L96.21 201.13 L95.93 201.97 L95.93 203.36 L96.21 204.20 L96.49 204.76 L97.05 205.32 L97.61 205.60 L98.73 205.60 L99.28 205.32 L99.84 204.76 L100.12 204.20 L100.12 203.36 M98.73 203.36 L100.12 203.36 M103.48 199.73 L101.24 205.60 M103.48 199.73 L105.71 205.60 M102.08 203.64 L104.87 203.64 M107.11 201.13 L107.11 200.85 L107.39 200.29 L107.67 200.01 L108.23 199.73 L109.35 199.73 L109.91 200.01 L110.18 200.29 L110.46 200.85 L110.46 201.41 L110.18 201.97 L109.63 202.81 L106.83 205.60 L110.74 205.60 M115.22 199.73 L112.42 203.64 L116.61 203.64 M115.22 199.73 L115.22 205.60 M85.87 210.13 L85.87 216.00 M85.87 210.13 L89.50 210.13 M85.87 212.93 L88.10 212.93 M90.90 210.13 L90.90 216.00 M90.90 210.13 L94.53 210.13 M90.90 212.93 L93.14 212.93 M90.90 216.00 L94.53 216.00 M100.12 211.53 L99.84 210.97 L99.28 210.41 L98.73 210.13 L97.61 210.13 L97.05 210.41 L96.49 210.97 L96.21 211.53 L95.93 212.37 L95.93 213.76 L96.21 214.60 L96.49 215.16 L97.05 215.72 L97.61 216.00 L98.73 216.00 L99.28 215.72 L99.84 215.16 L100.12 214.60 L100.12 213.76 M98.73 213.76 L100.12 213.76 M103.48 210.13 L101.24 216.00 M103.48 210.13 L105.71 216.00 M102.08 214.04 L104.87 214.04 M107.11 211.53 L107.11 211.25 L107.39 210.69 L107.67 210.41 L108.23 210.13 L109.35 210.13 L109.91 210.41 L110.18 210.69 L110.46 211.25 L110.46 211.81 L110.18 212.37 L109.63 213.21 L106.83 216.00 L110.74 216.00 M115.77 210.13 L112.98 210.13 L112.70 212.65 L112.98 212.37 L113.82 212.09 L114.66 212.09 L115.50 212.37 L116.05 212.93 L116.33 213.76 L116.33 214.32 L116.05 215.16 L115.50 215.72 L114.66 216.00 L113.82 216.00 L112.98 215.72 L112.70 215.44 L112.42 214.88 M85.87 220.63 L85.87 226.50 M85.87 226.50 L89.22 226.50 M90.34 220.63 L90.62 220.91 L90.90 220.63 L90.62 220.35 L90.34 220.63 M90.62 222.59 L90.62 226.50 M102.64 223.15 L102.64 222.87 L102.36 222.59 L102.08 222.59 L101.80 222.87 L101.52 223.43 L100.96 224.82 L100.40 225.66 L99.84 226.22 L99.28 226.50 L98.17 226.50 L97.61 226.22 L97.33 225.94 L97.05 225.38 L97.05 224.82 L97.33 224.26 L97.61 223.98 L99.56 222.87 L99.84 222.59 L100.12 222.03 L100.12 221.47 L99.84 220.91 L99.28 220.63 L98.72 220.91 L98.45 221.47 L98.45 222.03 L98.72 222.87 L99.28 223.71 L100.68 225.66 L101.24 226.22 L101.80 226.50 L102.36 226.50 L102.64 226.22 L102.64 225.94 M108.51 220.63 L109.90 226.50 M111.30 220.63 L109.90 226.50 M111.30 220.63 L112.70 226.50 M114.10 220.63 L112.70 226.50 M115.77 220.63 L115.77 226.50 M115.77 223.71 L116.61 222.87 L117.17 222.59 L118.01 222.59 L118.57 222.87 L118.85 223.71 L118.85 226.50 M120.81 220.63 L121.08 220.91 L121.36 220.63 L121.08 220.35 L120.81 220.63 M121.08 222.59 L121.08 226.50 M123.60 220.63 L123.60 225.38 L123.88 226.22 L124.44 226.50 L125.00 226.50 M122.76 222.59 L124.72 222.59 M126.40 224.26 L129.75 224.26 L129.75 223.71 L129.47 223.15 L129.19 222.87 L128.63 222.59 L127.79 222.59 L127.23 222.87 L126.67 223.43 L126.40 224.26 L126.40 224.82 L126.67 225.66 L127.23 226.22 L127.79 226.50 L128.63 226.50 L129.19 226.22 L129.75 225.66 M137.58 220.63 L136.74 220.91 L136.18 221.75 L135.90 223.15 L135.90 223.98 L136.18 225.38 L136.74 226.22 L137.58 226.50 L138.13 226.50 L138.97 226.22 L139.53 225.38 L139.81 223.98 L139.81 223.15 L139.53 221.75 L138.97 220.91 L138.13 220.63 L137.58 220.63 M145.12 222.59 L144.84 223.43 L144.28 223.98 L143.44 224.26 L143.17 224.26 L142.33 223.98 L141.77 223.43 L141.49 222.59 L141.49 222.31 L141.77 221.47 L142.33 220.91 L143.17 220.63 L143.44 220.63 L144.28 220.91 L144.84 221.47 L145.12 222.59 L145.12 223.98 L144.84 225.38 L144.28 226.22 L143.44 226.50 L142.89 226.50 L142.05 226.22 L141.77 225.66 M85.87 231.03 L85.87 236.90 M85.87 231.03 L87.82 231.03 L88.66 231.31 L89.22 231.87 L89.50 232.43 L89.78 233.27 L89.78 234.66 L89.50 235.50 L89.22 236.06 L88.66 236.62 L87.82 236.90 L85.87 236.90 M91.74 231.03 L91.74 232.99 M97.61 231.87 L97.05 231.31 L96.21 231.03 L95.09 231.03 L94.25 231.31 L93.69 231.87 L93.69 232.43 L93.97 232.99 L94.25 233.27 L94.81 233.55 L96.49 234.11 L97.05 234.38 L97.33 234.66 L97.61 235.22 L97.61 236.06 L97.05 236.62 L96.21 236.90 L95.09 236.90 L94.25 236.62 L93.69 236.06 M100.68 232.99 L100.12 233.27 L99.56 233.83 L99.28 234.66 L99.28 235.22 L99.56 236.06 L100.12 236.62 L100.68 236.90 L101.52 236.90 L102.08 236.62 L102.64 236.06 L102.92 235.22 L102.92 234.66 L102.64 233.83 L102.08 233.27 L101.52 232.99 L100.68 232.99 M104.87 232.99 L104.87 235.78 L105.15 236.62 L105.71 236.90 L106.55 236.90 L107.11 236.62 L107.95 235.78 M107.95 232.99 L107.95 236.90 M112.98 232.99 L109.91 236.90 M109.91 232.99 L112.98 232.99 M109.91 236.90 L112.98 236.90 M118.01 232.99 L118.01 236.90 M118.01 233.83 L117.45 233.27 L116.89 232.99 L116.05 232.99 L115.50 233.27 L114.94 233.83 L114.66 234.66 L114.66 235.22 L114.94 236.06 L115.50 236.62 L116.05 236.90 L116.89 236.90 L117.45 236.62 L118.01 236.06 M122.76 231.87 L122.76 236.90 M120.25 234.38 L125.28 234.38 M128.07 232.15 L128.63 231.87 L129.47 231.03 L129.47 236.90 M136.18 231.03 L133.38 231.03 L133.10 233.55 L133.38 233.27 L134.22 232.99 L135.06 232.99 L135.90 233.27 L136.46 233.83 L136.74 234.66 L136.74 235.22 L136.46 236.06 L135.90 236.62 L135.06 236.90 L134.22 236.90 L133.38 236.62 L133.10 236.34 L132.82 235.78 M89.50 242.27 L88.94 241.71 L88.10 241.43 L86.99 241.43 L86.15 241.71 L85.59 242.27 L85.59 242.83 L85.87 243.39 L86.15 243.67 L86.71 243.95 L88.38 244.51 L88.94 244.78 L89.22 245.06 L89.50 245.62 L89.50 246.46 L88.94 247.02 L88.10 247.30 L86.99 247.30 L86.15 247.02 L85.59 246.46 M91.18 245.06 L94.53 245.06 L94.53 244.51 L94.25 243.95 L93.97 243.67 L93.41 243.39 L92.58 243.39 L92.02 243.67 L91.46 244.23 L91.18 245.06 L91.18 245.62 L91.46 246.46 L92.02 247.02 L92.58 247.30 L93.41 247.30 L93.97 247.02 L94.53 246.46 M96.77 241.43 L96.77 246.18 L97.05 247.02 L97.61 247.30 L98.17 247.30 M95.93 243.39 L97.89 243.39 M105.43 243.39 L104.87 243.67 L104.31 244.23 L104.04 245.06 L104.04 245.62 L104.31 246.46 L104.87 247.02 L105.43 247.30 L106.27 247.30 L106.83 247.02 L107.39 246.46 L107.67 245.62 L107.67 245.06 L107.39 244.23 L106.83 243.67 L106.27 243.39 L105.43 243.39 M111.30 241.43 L110.74 241.43 L110.18 241.71 L109.91 242.55 L109.91 247.30 M109.07 243.39 L111.02 243.39 M118.85 241.43 L118.29 241.71 L117.73 242.27 L117.45 242.83 L117.17 243.67 L117.17 245.06 L117.45 245.90 L117.73 246.46 L118.29 247.02 L118.85 247.30 L119.97 247.30 L120.53 247.02 L121.09 246.46 L121.36 245.90 L121.64 245.06 L121.64 243.67 L121.36 242.83 L121.09 242.27 L120.53 241.71 L119.97 241.43 L118.85 241.43 M123.60 241.43 L123.60 247.30 M123.60 244.23 L124.16 243.67 L124.72 243.39 L125.56 243.39 L126.12 243.67 L126.67 244.23 L126.95 245.06 L126.95 245.62 L126.67 246.46 L126.12 247.02 L125.56 247.30 L124.72 247.30 L124.16 247.02 L123.60 246.46 M131.71 244.23 L131.43 243.67 L130.59 243.39 L129.75 243.39 L128.91 243.67 L128.63 244.23 L128.91 244.78 L129.47 245.06 L130.87 245.34 L131.43 245.62 L131.71 246.18 L131.71 246.46 L131.43 247.02 L130.59 247.30 L129.75 247.30 L128.91 247.02 L128.63 246.46 M133.94 246.74 L133.66 247.02 L133.94 247.30 L134.22 247.02 L133.94 246.74 M85.87 251.73 L85.87 257.60 M85.87 251.73 L88.38 251.73 L89.22 252.01 L89.50 252.29 L89.78 252.85 L89.78 253.41 L89.50 253.97 L89.22 254.25 L88.38 254.53 M85.87 254.53 L88.38 254.53 L89.22 254.81 L89.50 255.08 L89.78 255.64 L89.78 256.48 L89.50 257.04 L89.22 257.32 L88.38 257.60 L85.87 257.60 M91.46 255.36 L94.81 255.36 L94.81 254.81 L94.53 254.25 L94.25 253.97 L93.69 253.69 L92.86 253.69 L92.30 253.97 L91.74 254.53 L91.46 255.36 L91.46 255.92 L91.74 256.76 L92.30 257.32 L92.86 257.60 L93.69 257.60 L94.25 257.32 L94.81 256.76 M96.77 253.69 L96.77 257.60 M96.77 255.36 L97.05 254.53 L97.61 253.97 L98.17 253.69 L99.00 253.69 M100.40 253.69 L100.40 257.60 M100.40 254.81 L101.24 253.97 L101.80 253.69 L102.64 253.69 L103.20 253.97 L103.48 254.81 L103.48 257.60 M108.79 253.69 L108.79 257.60 M108.79 254.53 L108.23 253.97 L107.67 253.69 L106.83 253.69 L106.27 253.97 L105.71 254.53 L105.43 255.36 L105.43 255.92 L105.71 256.76 L106.27 257.32 L106.83 257.60 L107.67 257.60 L108.23 257.32 L108.79 256.76 M111.02 253.69 L111.02 257.60 M111.02 255.36 L111.30 254.53 L111.86 253.97 L112.42 253.69 L113.26 253.69 M117.73 251.73 L117.73 257.60 M117.73 254.53 L117.17 253.97 L116.61 253.69 L115.77 253.69 L115.22 253.97 L114.66 254.53 L114.38 255.36 L114.38 255.92 L114.66 256.76 L115.22 257.32 L115.77 257.60 L116.61 257.60 L117.17 257.32 L117.73 256.76 M119.69 251.73 L119.97 252.01 L120.25 251.73 L119.97 251.45 L119.69 251.73 M119.97 253.69 L119.97 257.60 M124.72 252.57 L124.72 257.60 M122.20 255.08 L127.23 255.08 M130.03 252.85 L130.59 252.57 L131.43 251.73 L131.43 257.60 M136.18 251.73 L135.34 252.01 L135.06 252.57 L135.06 253.13 L135.34 253.69 L135.90 253.97 L137.02 254.25 L137.86 254.53 L138.41 255.08 L138.69 255.64 L138.69 256.48 L138.41 257.04 L138.13 257.32 L137.30 257.60 L136.18 257.60 L135.34 257.32 L135.06 257.04 L134.78 256.48 L134.78 255.64 L135.06 255.08 L135.62 254.53 L136.46 254.25 L137.58 253.97 L138.13 253.69 L138.41 253.13 L138.41 252.57 L138.13 252.01 L137.30 251.73 L136.18 251.73 M85.87 261.63 L85.87 267.50 M89.78 261.63 L89.78 267.50 M85.87 264.43 L89.78 264.43 M91.74 265.26 L95.09 265.26 L95.09 264.70 L94.81 264.15 L94.53 263.87 L93.97 263.59 L93.14 263.59 L92.58 263.87 L92.02 264.43 L91.74 265.26 L91.74 265.82 L92.02 266.66 L92.58 267.22 L93.14 267.50 L93.97 267.50 L94.53 267.22 L95.09 266.66 M97.05 263.59 L97.05 267.50 M97.05 264.70 L97.89 263.87 L98.45 263.59 L99.28 263.59 L99.84 263.87 L100.12 264.70 L100.12 267.50 M102.36 263.59 L102.36 267.50 M102.36 265.26 L102.64 264.43 L103.20 263.87 L103.76 263.59 L104.59 263.59 M105.71 261.63 L105.99 261.91 L106.27 261.63 L105.99 261.35 L105.71 261.63 M105.99 263.59 L105.99 267.50 M111.30 263.59 L111.30 269.46 M111.30 264.43 L110.74 263.87 L110.18 263.59 L109.35 263.59 L108.79 263.87 L108.23 264.43 L107.95 265.26 L107.95 265.82 L108.23 266.66 L108.79 267.22 L109.35 267.50 L110.18 267.50 L110.74 267.22 L111.30 266.66 M113.54 263.59 L113.54 266.38 L113.82 267.22 L114.38 267.50 L115.22 267.50 L115.77 267.22 L116.61 266.38 M116.61 263.59 L116.61 267.50 M118.57 265.26 L121.92 265.26 L121.92 264.70 L121.64 264.15 L121.36 263.87 L120.81 263.59 L119.97 263.59 L119.41 263.87 L118.85 264.43 L118.57 265.26 L118.57 265.82 L118.85 266.66 L119.41 267.22 L119.97 267.50 L120.81 267.50 L121.36 267.22 L121.92 266.66 M126.68 264.43 L126.40 263.87 L125.56 263.59 L124.72 263.59 L123.88 263.87 L123.60 264.43 L123.88 264.98 L124.44 265.26 L125.84 265.54 L126.40 265.82 L126.68 266.38 L126.68 266.66 L126.40 267.22 L125.56 267.50 L124.72 267.50 L123.88 267.22 L123.60 266.66 M131.15 262.47 L131.15 267.50 M128.63 264.98 L133.66 264.98 M135.90 263.03 L135.90 262.75 L136.18 262.19 L136.46 261.91 L137.02 261.63 L138.13 261.63 L138.69 261.91 L138.97 262.19 L139.25 262.75 L139.25 263.31 L138.97 263.87 L138.41 264.70 L135.62 267.50 L139.53 267.50 M142.89 261.63 L142.05 261.91 L141.49 262.75 L141.21 264.15 L141.21 264.98 L141.49 266.38 L142.05 267.22 L142.89 267.50 L143.45 267.50 L144.28 267.22 L144.84 266.38 L145.12 264.98 L145.12 264.15 L144.84 262.75 L144.28 261.91 L143.45 261.63 L142.89 261.63" stroke="#000" stroke-width="1.05" fill="none" stroke-linecap="round" stroke-linejoin="round"/>
<circle cx="197.1" cy="316.6" r="1.4" fill="#111"/>
<path d="M200.25 305.90 L200.25 318.32 M200.25 305.90 L202.97 305.90 M200.25 318.32 L202.97 318.32 M205.64 307.45 L205.64 315.60 M205.64 307.45 L207.92 315.60 M210.20 307.45 L207.92 315.60 M210.20 307.45 L210.20 315.60 M223.88 305.90 L223.88 318.32 M221.16 305.90 L223.88 305.90 M221.16 318.32 L223.88 318.32" stroke="#000" stroke-width="1.05" fill="none" stroke-linecap="round" stroke-linejoin="round"/>
<circle cx="216.8" cy="315.9" r="2.3" fill="none" stroke="#000" stroke-width="0.9"/><circle cx="216.8" cy="315.9" r="0.75" fill="#000"/>
<path d="M54.90 201.10 L60.10 206.30 M54.90 206.30 L60.10 201.10" stroke="#14c014" stroke-width="2.2" fill="none"/>
<path d="M54.46 203.70 H60.54 M57.50 200.66 V206.74" stroke="#14c014" stroke-width="1.1" fill="none"/>
<rect x="55.00" y="211.20" width="5.20" height="5.20" stroke="#0000ee" stroke-width="1.85" fill="none"/>
<path d="M36.30 224.20 L79.00 224.20" fill="none" stroke="#00ffff" stroke-width="2.0" stroke-linejoin="round" stroke-linecap="butt"/>
<path d="M36.30 234.30 L79.00 234.30" fill="none" stroke="#a020f0" stroke-width="1.9" stroke-linejoin="round" stroke-linecap="butt" stroke-dasharray="8.8 4.3"/>
<path d="M36.30 244.70 L79.00 244.70" fill="none" stroke="#000" stroke-width="1.7" stroke-linejoin="round" stroke-linecap="butt"/>
<path d="M36.30 254.60 L79.00 254.60" fill="none" stroke="#ffa500" stroke-width="1.9" stroke-linejoin="round" stroke-linecap="butt" stroke-dasharray="4.6 2 1.1 2.3"/>
<path d="M36.30 265.00 L76.20 265.00" fill="none" stroke="#b22222" stroke-width="1.9" stroke-linejoin="round" stroke-linecap="butt" stroke-dasharray="4.5 4.3"/>
</svg>
</body></html>
